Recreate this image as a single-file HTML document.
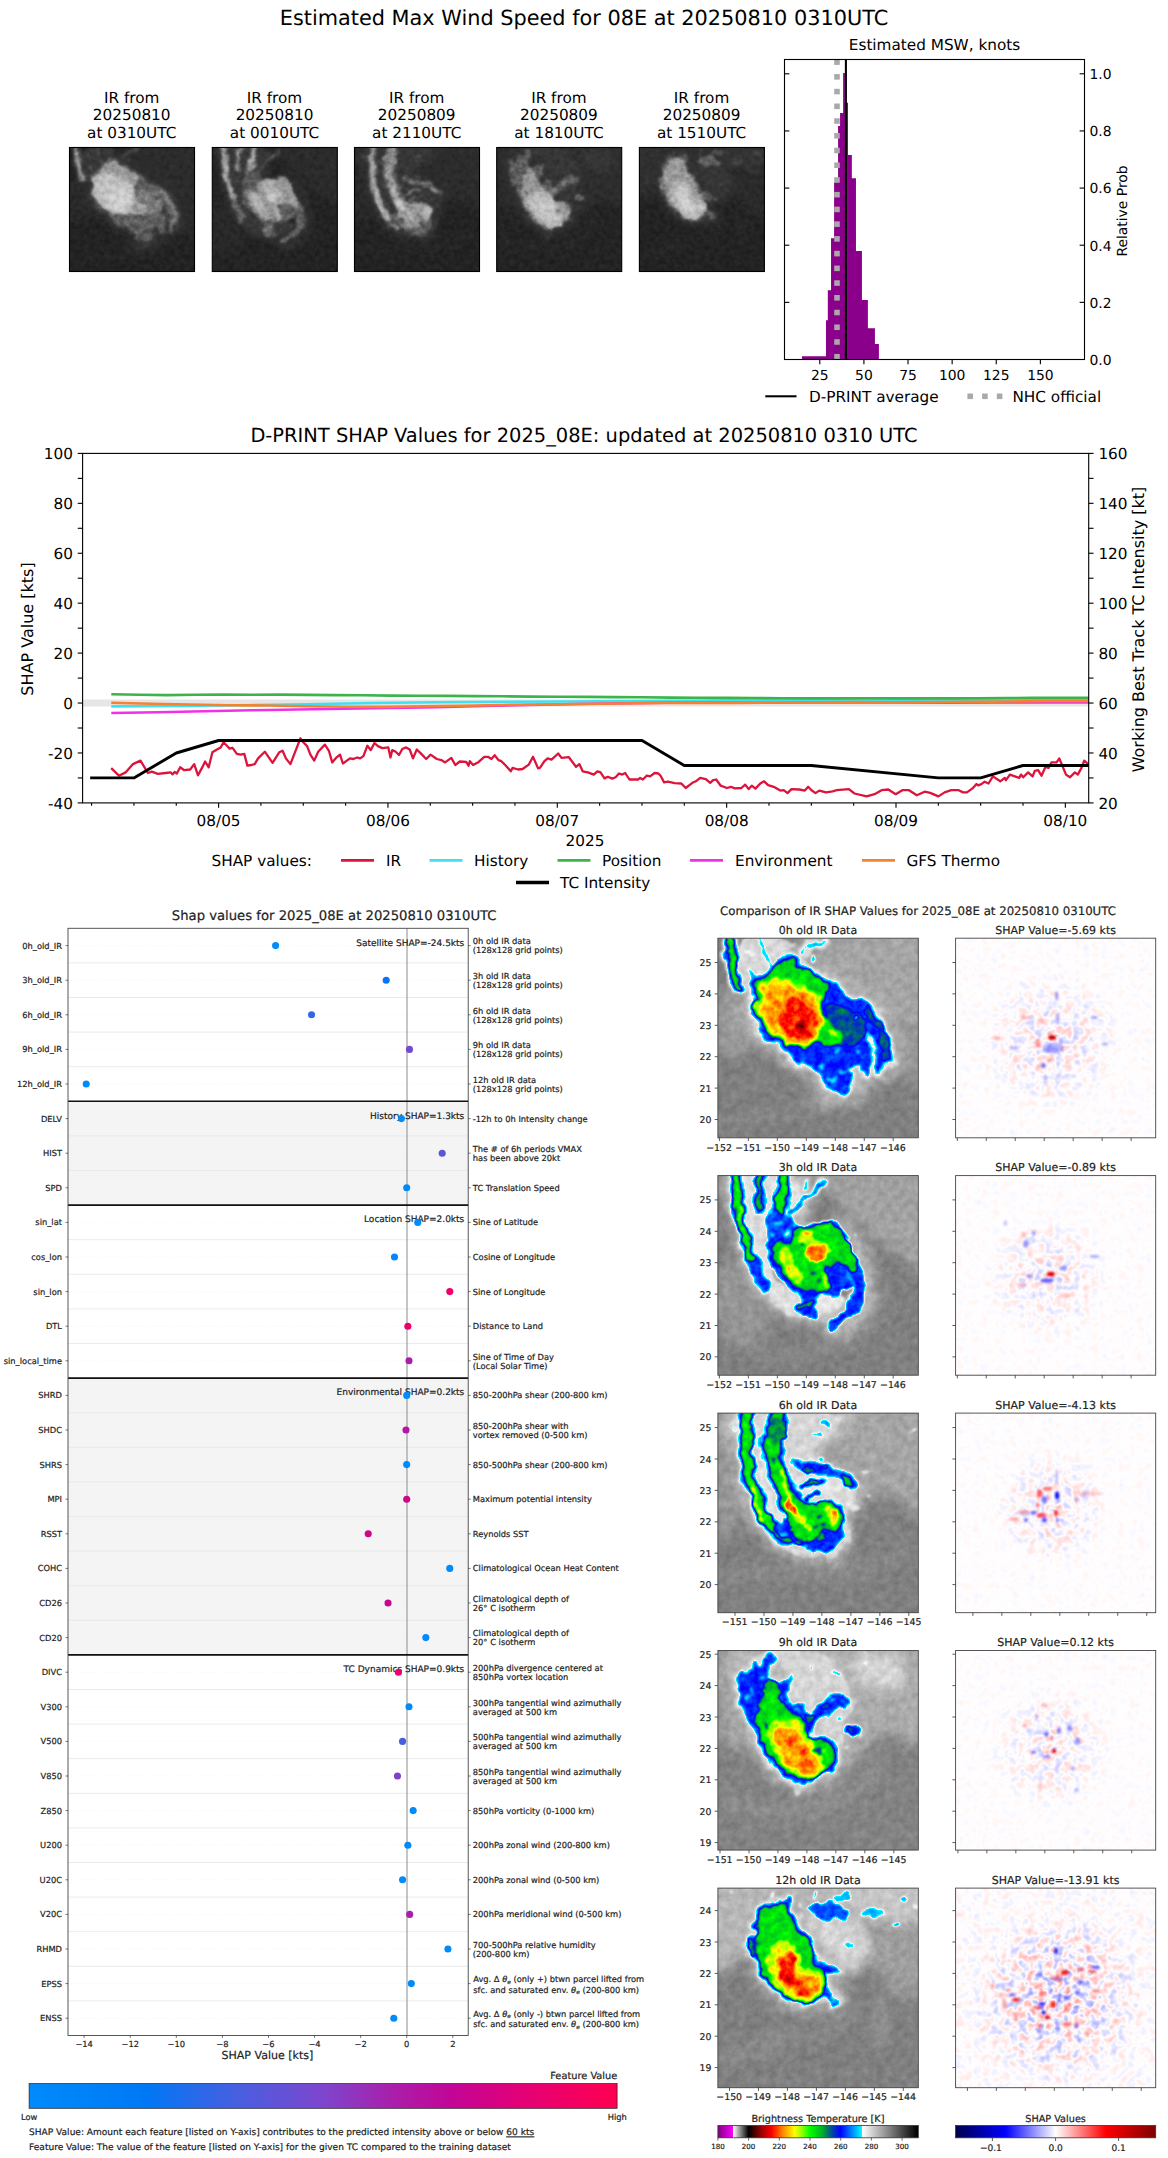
<!DOCTYPE html>
<html lang="en"><head><meta charset="utf-8"><title>D-PRINT 08E</title>
<style>
html,body{margin:0;padding:0;background:#fff}
svg{display:block;font-family:'DejaVu Sans','Liberation Sans',sans-serif}
text{white-space:pre;text-rendering:geometricPrecision}
.rs text{stroke:#222;stroke-width:0.2px}
</style></head>
<body>
<svg width="1168" height="2158" viewBox="0 0 1168 2158">
<rect x="0" y="0" width="1168" height="2158" fill="#fff"/>
<defs>
<filter id="btmap" x="0" y="0" width="1" height="1" color-interpolation-filters="sRGB">
<feTurbulence type="fractalNoise" baseFrequency="0.07" numOctaves="3" seed="21" result="d"/>
<feDisplacementMap in="SourceGraphic" in2="d" scale="11" xChannelSelector="R" yChannelSelector="G" result="sd"/>
<feGaussianBlur in="sd" stdDeviation="1.3" result="b"/>
<feTurbulence type="fractalNoise" baseFrequency="0.13" numOctaves="3" seed="4" result="n"/>
<feColorMatrix in="n" type="matrix" values="1 0 0 0 0 1 0 0 0 0 1 0 0 0 0 0 0 0 0 1" result="ng"/>
<feComposite in="b" in2="ng" operator="arithmetic" k1="0.16" k2="0.92" k3="0.022" k4="-0.011" result="h"/>
<feComponentTransfer in="h"><feFuncR type="table" tableValues="0 0.028 0.056 0.083 0.111 0.139 0.167 0.194 0.222 0.25 0.278 0.306 0.333 0.361 0.389 0.417 0.445 0.472 0.5 0.528 0.556 0.583 0.611 0.639 0.667 0.695 0.722 0.75 0.778 0.806 0.834 0.861 0.889 0.917 0.945 0.972 0 0 0 0 0 0 0 0 0 0 0 0 0 0 0 0 0 0 0 0 0 0 0 0 0 0 0 0 0 0 0 0 0 0 0 0.11 0.22 0.329 0.439 0.549 0.639 0.729 0.82 0.91 1 1 1 1 1 1 1 1 1 1 1 1 1 1 1 1 0.941 0.882 0.824 0.765 0.706 0.647 0.588 0.515 0.441 0.368 0.294 0.221 0.147 0.074 0"/><feFuncG type="table" tableValues="0 0.028 0.056 0.083 0.111 0.139 0.167 0.194 0.222 0.25 0.278 0.306 0.333 0.361 0.389 0.417 0.445 0.472 0.5 0.528 0.556 0.583 0.611 0.639 0.667 0.695 0.722 0.75 0.778 0.806 0.834 0.861 0.889 0.917 0.945 0.972 1 0.929 0.858 0.787 0.715 0.644 0.573 0.502 0.43 0.359 0.287 0.215 0.143 0.072 0 0.049 0.098 0.147 0.196 0.255 0.314 0.373 0.431 0.495 0.559 0.623 0.686 0.725 0.765 0.804 0.843 0.882 0.922 0.961 1 1 1 1 1 1 1 1 1 1 1 0.939 0.877 0.816 0.755 0.694 0.632 0.571 0.51 0.437 0.364 0.291 0.218 0.146 0.073 0 0 0 0 0 0 0 0 0 0 0 0 0 0 0 0"/><feFuncB type="table" tableValues="0 0.028 0.056 0.083 0.111 0.139 0.167 0.194 0.222 0.25 0.278 0.306 0.333 0.361 0.389 0.417 0.445 0.472 0.5 0.528 0.556 0.583 0.611 0.639 0.667 0.695 0.722 0.75 0.778 0.806 0.834 0.861 0.889 0.917 0.945 0.972 1 1 1 1 1 1 1 1 1 1 1 1 1 1 1 0.936 0.873 0.809 0.745 0.667 0.588 0.51 0.431 0.363 0.294 0.225 0.157 0.137 0.118 0.098 0.078 0.059 0.039 0.02 0 0 0 0 0 0 0 0 0 0 0 0 0 0 0 0 0 0 0 0 0 0 0 0 0 0 0 0 0 0 0 0 0 0 0 0 0 0 0 0 0"/></feComponentTransfer>
</filter>
<filter id="graymap" x="0" y="0" width="1" height="1" color-interpolation-filters="sRGB">
<feTurbulence type="fractalNoise" baseFrequency="0.11" numOctaves="3" seed="5" result="d"/>
<feDisplacementMap in="SourceGraphic" in2="d" scale="7" xChannelSelector="R" yChannelSelector="G" result="sd"/>
<feGaussianBlur in="sd" stdDeviation="1.0" result="b"/>
<feTurbulence type="fractalNoise" baseFrequency="0.2" numOctaves="3" seed="7" result="n"/>
<feColorMatrix in="n" type="matrix" values="1 0 0 0 0 1 0 0 0 0 1 0 0 0 0 0 0 0 0 1" result="ng"/>
<feComposite in="b" in2="ng" operator="arithmetic" k1="0.3" k2="0.85" k3="0.06" k4="-0.03" result="h"/>
<feComponentTransfer in="h"><feFuncR type="table" tableValues="0 0.085 0.165 0.23 0.33 0.46 0.59 0.69 0.77 0.83 0.87"/><feFuncG type="table" tableValues="0 0.085 0.165 0.23 0.33 0.46 0.59 0.69 0.77 0.83 0.87"/><feFuncB type="table" tableValues="0 0.085 0.165 0.23 0.33 0.46 0.59 0.69 0.77 0.83 0.87"/></feComponentTransfer>
</filter>
<filter id="soft" x="-0.1" y="-0.1" width="1.2" height="1.2" color-interpolation-filters="sRGB"><feGaussianBlur stdDeviation="28"/></filter>
<filter id="shp0" x="0" y="0" width="1" height="1" color-interpolation-filters="sRGB">
<feTurbulence type="fractalNoise" baseFrequency="0.11" numOctaves="2" seed="11" result="n"/>
<feColorMatrix in="n" type="matrix" values="1 0 0 0 0 1 0 0 0 0 1 0 0 0 0 0 0 0 0 1" result="ng"/>
<feComposite in="ng" in2="SourceGraphic" operator="arithmetic" k1="1.0" k2="0" k3="-0.5" k4="0.501" result="v"/>
<feComponentTransfer in="v"><feFuncR type="table" tableValues="0 0 1 1 0.5"/><feFuncG type="table" tableValues="0 0 1 0 0"/><feFuncB type="table" tableValues="0.3 1 1 0 0"/></feComponentTransfer>
</filter>
<filter id="shp1" x="0" y="0" width="1" height="1" color-interpolation-filters="sRGB">
<feTurbulence type="fractalNoise" baseFrequency="0.11" numOctaves="2" seed="23" result="n"/>
<feColorMatrix in="n" type="matrix" values="1 0 0 0 0 1 0 0 0 0 1 0 0 0 0 0 0 0 0 1" result="ng"/>
<feComposite in="ng" in2="SourceGraphic" operator="arithmetic" k1="1.0" k2="0" k3="-0.5" k4="0.501" result="v"/>
<feComponentTransfer in="v"><feFuncR type="table" tableValues="0 0 1 1 0.5"/><feFuncG type="table" tableValues="0 0 1 0 0"/><feFuncB type="table" tableValues="0.3 1 1 0 0"/></feComponentTransfer>
</filter>
<filter id="shp2" x="0" y="0" width="1" height="1" color-interpolation-filters="sRGB">
<feTurbulence type="fractalNoise" baseFrequency="0.11" numOctaves="2" seed="35" result="n"/>
<feColorMatrix in="n" type="matrix" values="1 0 0 0 0 1 0 0 0 0 1 0 0 0 0 0 0 0 0 1" result="ng"/>
<feComposite in="ng" in2="SourceGraphic" operator="arithmetic" k1="1.0" k2="0" k3="-0.5" k4="0.501" result="v"/>
<feComponentTransfer in="v"><feFuncR type="table" tableValues="0 0 1 1 0.5"/><feFuncG type="table" tableValues="0 0 1 0 0"/><feFuncB type="table" tableValues="0.3 1 1 0 0"/></feComponentTransfer>
</filter>
<filter id="shp3" x="0" y="0" width="1" height="1" color-interpolation-filters="sRGB">
<feTurbulence type="fractalNoise" baseFrequency="0.11" numOctaves="2" seed="47" result="n"/>
<feColorMatrix in="n" type="matrix" values="1 0 0 0 0 1 0 0 0 0 1 0 0 0 0 0 0 0 0 1" result="ng"/>
<feComposite in="ng" in2="SourceGraphic" operator="arithmetic" k1="1.0" k2="0" k3="-0.5" k4="0.501" result="v"/>
<feComponentTransfer in="v"><feFuncR type="table" tableValues="0 0 1 1 0.5"/><feFuncG type="table" tableValues="0 0 1 0 0"/><feFuncB type="table" tableValues="0.3 1 1 0 0"/></feComponentTransfer>
</filter>
<filter id="shp4" x="0" y="0" width="1" height="1" color-interpolation-filters="sRGB">
<feTurbulence type="fractalNoise" baseFrequency="0.11" numOctaves="2" seed="59" result="n"/>
<feColorMatrix in="n" type="matrix" values="1 0 0 0 0 1 0 0 0 0 1 0 0 0 0 0 0 0 0 1" result="ng"/>
<feComposite in="ng" in2="SourceGraphic" operator="arithmetic" k1="1.0" k2="0" k3="-0.5" k4="0.501" result="v"/>
<feComponentTransfer in="v"><feFuncR type="table" tableValues="0 0 1 1 0.5"/><feFuncG type="table" tableValues="0 0 1 0 0"/><feFuncB type="table" tableValues="0.3 1 1 0 0"/></feComponentTransfer>
</filter>
<filter id="spotblur" x="-1" y="-1" width="3" height="3"><feGaussianBlur stdDeviation="0.8"/></filter>
<radialGradient id="env0" gradientUnits="userSpaceOnUse" cx="1050" cy="1042" r="72"><stop offset="0" stop-color="rgb(63,63,63)"/><stop offset="0.5" stop-color="rgb(35,35,35)"/><stop offset="1" stop-color="rgb(8,8,8)"/></radialGradient>
<radialGradient id="env1" gradientUnits="userSpaceOnUse" cx="1048" cy="1277" r="64"><stop offset="0" stop-color="rgb(56,56,56)"/><stop offset="0.5" stop-color="rgb(31,31,31)"/><stop offset="1" stop-color="rgb(7,7,7)"/></radialGradient>
<radialGradient id="env2" gradientUnits="userSpaceOnUse" cx="1052" cy="1508" r="60"><stop offset="0" stop-color="rgb(66,66,66)"/><stop offset="0.5" stop-color="rgb(36,36,36)"/><stop offset="1" stop-color="rgb(7,7,7)"/></radialGradient>
<radialGradient id="env3" gradientUnits="userSpaceOnUse" cx="1052" cy="1748" r="64"><stop offset="0" stop-color="rgb(56,56,56)"/><stop offset="0.5" stop-color="rgb(31,31,31)"/><stop offset="1" stop-color="rgb(7,7,7)"/></radialGradient>
<radialGradient id="env4" gradientUnits="userSpaceOnUse" cx="1058" cy="1998" r="90"><stop offset="0" stop-color="rgb(117,117,117)"/><stop offset="0.5" stop-color="rgb(66,66,66)"/><stop offset="1" stop-color="rgb(16,16,16)"/></radialGradient>
<g id="storm0"><rect x="-80" y="-80" width="1330" height="1330" fill="#2a2a2a"/><g filter="url(#soft)"><path d="M560,60C730,13 920,-100 1100,60C1280,220 1140,393 1100,540C1060,687 1053,537 980,500C907,463 953,483 880,430C807,377 833,393 760,340C687,287 717,317 660,270C603,223 623,270 590,200C557,130 390,107 560,60Z" fill="#363636"/><path d="M90,380C127,300 147,327 200,360C253,393 237,393 250,480C263,567 273,560 240,620C207,680 200,667 150,660C100,653 110,693 90,600C70,507 53,460 90,380Z" fill="#333333"/><path d="M950,560C980,487 1037,473 1080,540C1123,607 1110,687 1080,760C1050,833 1033,827 990,760C947,693 920,633 950,560Z" fill="#323232"/><path d="M120,1000C213,977 207,963 400,930C593,897 533,943 700,900C867,857 833,833 900,800" fill="none" stroke="#2d2d2d" stroke-width="60" stroke-linecap="round" stroke-linejoin="round"/><path d="M560,880C607,880 620,900 700,880C780,860 767,840 800,820" fill="none" stroke="#3a3a3a" stroke-width="50" stroke-linecap="round" stroke-linejoin="round"/><path d="M400,180C435,172 438,178 465,190C492,202 462,200 480,215C498,230 490,218 520,235C550,252 540,250 570,265C600,280 583,265 610,280C637,295 623,287 650,310C677,333 663,328 690,350C717,372 697,358 730,375C763,392 753,378 790,400C827,422 810,410 840,440C870,470 858,453 880,490C902,527 890,507 905,550C920,593 917,573 925,620C933,667 940,663 930,690C920,717 915,685 895,700C875,715 892,728 870,735C848,742 850,717 830,720C810,723 823,745 810,745C797,745 807,735 790,720C773,705 783,693 760,700C737,707 725,717 720,740C715,763 743,747 745,770C747,793 743,788 725,810C707,832 718,833 690,835C662,837 667,827 640,815C613,803 623,818 610,800C597,782 617,783 600,760C583,737 587,750 560,730C533,710 550,713 520,700C490,687 497,707 470,690C443,673 463,672 440,650C417,628 420,642 400,625C380,608 400,615 380,600C360,585 367,600 340,580C313,560 325,573 300,540C275,507 280,513 265,480C250,447 253,470 255,440C257,410 270,423 270,390C270,357 262,373 255,340C248,307 238,312 250,290C262,268 267,287 290,275C313,263 297,275 320,255C343,235 333,240 360,215C387,190 365,188 400,180Z" fill="#3c3c3c" stroke="#3c3c3c" stroke-width="110" stroke-linejoin="round"/></g><path d="M400,180C435,172 438,178 465,190C492,202 462,200 480,215C498,230 490,218 520,235C550,252 540,250 570,265C600,280 583,265 610,280C637,295 623,287 650,310C677,333 663,328 690,350C717,372 697,358 730,375C763,392 753,378 790,400C827,422 810,410 840,440C870,470 858,453 880,490C902,527 890,507 905,550C920,593 917,573 925,620C933,667 940,663 930,690C920,717 915,685 895,700C875,715 892,728 870,735C848,742 850,717 830,720C810,723 823,745 810,745C797,745 807,735 790,720C773,705 783,693 760,700C737,707 725,717 720,740C715,763 743,747 745,770C747,793 743,788 725,810C707,832 718,833 690,835C662,837 667,827 640,815C613,803 623,818 610,800C597,782 617,783 600,760C583,737 587,750 560,730C533,710 550,713 520,700C490,687 497,707 470,690C443,673 463,672 440,650C417,628 420,642 400,625C380,608 400,615 380,600C360,585 367,600 340,580C313,560 325,573 300,540C275,507 280,513 265,480C250,447 253,470 255,440C257,410 270,423 270,390C270,357 262,373 255,340C248,307 238,312 250,290C262,268 267,287 290,275C313,263 297,275 320,255C343,235 333,240 360,215C387,190 365,188 400,180Z" fill="#464646" stroke="#464646" stroke-width="50" stroke-linejoin="round"/><path d="M400,180C435,172 438,178 465,190C492,202 462,200 480,215C498,230 490,218 520,235C550,252 540,250 570,265C600,280 583,265 610,280C637,295 623,287 650,310C677,333 663,328 690,350C717,372 697,358 730,375C763,392 753,378 790,400C827,422 810,410 840,440C870,470 858,453 880,490C902,527 890,507 905,550C920,593 917,573 925,620C933,667 940,663 930,690C920,717 915,685 895,700C875,715 892,728 870,735C848,742 850,717 830,720C810,723 823,745 810,745C797,745 807,735 790,720C773,705 783,693 760,700C737,707 725,717 720,740C715,763 743,747 745,770C747,793 743,788 725,810C707,832 718,833 690,835C662,837 667,827 640,815C613,803 623,818 610,800C597,782 617,783 600,760C583,737 587,750 560,730C533,710 550,713 520,700C490,687 497,707 470,690C443,673 463,672 440,650C417,628 420,642 400,625C380,608 400,615 380,600C360,585 367,600 340,580C313,560 325,573 300,540C275,507 280,513 265,480C250,447 253,470 255,440C257,410 270,423 270,390C270,357 262,373 255,340C248,307 238,312 250,290C262,268 267,287 290,275C313,263 297,275 320,255C343,235 333,240 360,215C387,190 365,188 400,180Z" fill="#4e4e4e" stroke="#4e4e4e" stroke-width="26" stroke-linejoin="round"/><path d="M200,110C273,43 353,80 420,100C487,120 440,117 400,170C360,223 353,210 300,260C247,310 273,307 240,320C207,333 213,370 200,300C187,230 127,177 200,110Z" fill="#474747"/><path d="M140,40C143,77 142,80 150,150C158,220 154,188 165,250C176,312 176,307 182,335" fill="none" stroke="#434343" stroke-width="80" stroke-linecap="round" stroke-linejoin="round"/><path d="M140,40C143,77 142,80 150,150C158,220 154,188 165,250C176,312 176,307 182,335" fill="none" stroke="#4f4f4f" stroke-width="62" stroke-linecap="round" stroke-linejoin="round"/><path d="M140,40C143,77 142,80 150,150C158,220 154,188 165,250C176,312 176,307 182,335" fill="none" stroke="#6f6f6f" stroke-width="46" stroke-linecap="round" stroke-linejoin="round"/><path d="M140,40C143,77 142,80 150,150C158,220 154,188 165,250C176,312 176,307 182,335" fill="none" stroke="#9e9e9e" stroke-width="24" stroke-linecap="round" stroke-linejoin="round"/><path d="M300,95C307,117 305,115 320,160C335,205 337,207 345,230" fill="none" stroke="#484848" stroke-width="40" stroke-linecap="round" stroke-linejoin="round"/><path d="M300,95C307,117 305,115 320,160C335,205 337,207 345,230" fill="none" stroke="#5a5a5a" stroke-width="16" stroke-linecap="round" stroke-linejoin="round"/><path d="M225,140C233,148 242,157 250,165" fill="none" stroke="#585858" stroke-width="18" stroke-linecap="round" stroke-linejoin="round"/><path d="M250,250C258,267 267,283 275,300" fill="none" stroke="#616161" stroke-width="22" stroke-linecap="round" stroke-linejoin="round"/><path d="M500,160C515,148 508,145 545,125C582,105 588,108 610,100" fill="none" stroke="#484848" stroke-width="50" stroke-linecap="round" stroke-linejoin="round"/><path d="M500,160C515,148 508,145 545,125C582,105 588,108 610,100" fill="none" stroke="#5d5d5d" stroke-width="14" stroke-linecap="round" stroke-linejoin="round"/><ellipse cx="545" cy="185" rx="12" ry="18" fill="#5d5d5d" transform="rotate(30 545 185)"/><path d="M400,180C435,172 438,178 465,190C492,202 462,200 480,215C498,230 490,218 520,235C550,252 540,250 570,265C600,280 583,265 610,280C637,295 623,287 650,310C677,333 663,328 690,350C717,372 697,358 730,375C763,392 753,378 790,400C827,422 810,410 840,440C870,470 858,453 880,490C902,527 890,507 905,550C920,593 917,573 925,620C933,667 940,663 930,690C920,717 915,685 895,700C875,715 892,728 870,735C848,742 850,717 830,720C810,723 823,745 810,745C797,745 807,735 790,720C773,705 783,693 760,700C737,707 725,717 720,740C715,763 743,747 745,770C747,793 743,788 725,810C707,832 718,833 690,835C662,837 667,827 640,815C613,803 623,818 610,800C597,782 617,783 600,760C583,737 587,750 560,730C533,710 550,713 520,700C490,687 497,707 470,690C443,673 463,672 440,650C417,628 420,642 400,625C380,608 400,615 380,600C360,585 367,600 340,580C313,560 325,573 300,540C275,507 280,513 265,480C250,447 253,470 255,440C257,410 270,423 270,390C270,357 262,373 255,340C248,307 238,312 250,290C262,268 267,287 290,275C313,263 297,275 320,255C343,235 333,240 360,215C387,190 365,188 400,180Z" fill="#6f6f6f"/><path d="M620,440C633,390 647,420 700,430C753,440 743,437 780,470C817,503 807,490 810,530C813,570 820,565 790,590C760,615 763,608 720,605C677,602 693,635 660,580C627,525 607,490 620,440Z" fill="#828282"/><path d="M805,445C824,465 832,458 862,505C892,552 881,532 895,585C909,638 900,638 903,665" fill="none" stroke="#828282" stroke-width="36" stroke-linecap="round" stroke-linejoin="round"/><path d="M822,560C831,587 846,588 850,640C854,692 840,690 835,715" fill="none" stroke="#4f4f4f" stroke-width="30" stroke-linecap="round" stroke-linejoin="round"/><ellipse cx="762" cy="478" rx="14" ry="8" fill="#4c4c4c"/><ellipse cx="670" cy="632" rx="18" ry="10" fill="#565656"/><ellipse cx="600" cy="705" rx="14" ry="10" fill="#565656"/><ellipse cx="690" cy="745" rx="20" ry="10" fill="#565656"/><ellipse cx="775" cy="645" rx="12" ry="16" fill="#565656"/><ellipse cx="640" cy="780" rx="22" ry="10" fill="#565656"/><ellipse cx="560" cy="570" rx="14" ry="8" fill="#565656"/><ellipse cx="585" cy="575" rx="10" ry="8" fill="#565656"/><path d="M405,200C430,190 423,187 445,195C467,203 445,207 470,225C495,243 490,232 520,250C550,268 533,267 560,280C587,293 578,273 600,290C622,307 625,303 625,330C625,357 617,340 600,370C583,400 575,387 575,420C575,453 575,437 600,470C625,503 620,490 650,520C680,550 687,533 690,560C693,587 687,583 660,600C633,617 643,612 610,610C577,608 590,592 560,595C530,598 553,615 520,620C487,625 497,618 460,610C423,602 440,607 410,595C380,583 397,593 370,575C343,557 355,567 330,540C305,513 315,528 295,495C275,462 275,475 270,440C265,405 282,423 280,390C278,357 268,370 265,340C262,310 255,317 270,300C285,283 287,303 310,290C333,277 320,282 340,260C360,238 348,245 370,225C392,205 380,210 405,200Z" fill="#9b9b9b"/><path d="M285,320C306,303 302,305 340,295C378,285 360,287 400,290C440,293 422,290 460,305C498,320 482,313 515,335C548,357 537,342 560,370C583,398 574,383 585,420C596,457 594,438 592,480C590,522 597,505 580,545C563,585 577,578 540,600C503,622 512,613 470,612C428,611 448,612 415,598C382,584 400,594 370,570C340,546 352,558 325,525C298,492 305,507 288,470C271,433 274,447 275,415C276,383 289,398 290,375C291,352 280,363 278,345C276,327 264,337 285,320Z" fill="#b7b7b7"/><ellipse cx="650" cy="545" rx="30" ry="12" fill="#b2b2b2" transform="rotate(35 650 545)"/><path d="M305,340C322,313 322,322 360,315C398,308 383,312 420,320C457,328 435,325 470,340C505,355 493,343 525,365C557,387 547,370 565,405C583,440 577,427 578,470C579,513 584,496 568,535C552,574 563,567 530,588C497,609 505,601 470,598C435,595 455,595 425,580C395,565 409,577 380,552C351,527 365,539 338,505C311,471 309,487 300,450C291,413 308,432 310,395C312,358 288,367 305,340Z" fill="#c7c7c7"/><ellipse cx="476" cy="485" rx="86" ry="104" fill="#dadada" transform="rotate(-20 476 485)"/><ellipse cx="485" cy="515" rx="26" ry="34" fill="#e6e6e6"/></g>
<g id="storm1"><rect x="-80" y="-80" width="1330" height="1330" fill="#2a2a2a"/><g filter="url(#soft)"><path d="M600,60C740,-3 933,-93 1100,60C1267,213 1147,380 1100,520C1053,660 1040,513 960,480C880,447 927,470 860,420C793,370 820,387 760,330C700,273 733,340 680,250C627,160 460,123 600,60Z" fill="#353535"/><path d="M90,560C137,473 143,493 220,540C297,587 293,580 320,700C347,820 360,827 300,900C240,973 213,953 140,920C67,887 97,920 80,800C63,680 43,647 90,560Z" fill="#313131"/><path d="M300,1000C400,980 433,987 600,940C767,893 700,940 800,860C900,780 867,753 900,700" fill="none" stroke="#2e2e2e" stroke-width="60" stroke-linecap="round" stroke-linejoin="round"/><path d="M150,80C263,23 357,7 480,80C603,153 540,187 520,300C500,413 473,333 420,420C367,507 360,480 360,560C360,640 353,613 420,660C487,707 467,687 560,700C653,713 673,667 700,700C727,733 707,763 640,800C573,837 587,823 500,810C413,797 447,803 380,760C313,717 350,747 300,680C250,613 273,653 230,560C187,467 200,503 170,400C140,297 147,357 140,250C133,143 37,137 150,80Z" fill="#434343"/><path d="M640,300C667,300 697,307 760,380C823,453 800,420 830,520C860,620 860,587 850,680C840,773 857,733 800,800C743,867 747,860 680,880C613,900 613,900 600,860C587,820 587,833 640,760C693,687 727,733 760,640C793,547 767,567 740,480C713,393 713,440 680,380C647,320 613,300 640,300Z" fill="#3f3f3f"/></g><path d="M200,120C280,30 350,50 440,110C530,170 483,197 470,300C457,403 440,340 400,420C360,500 343,467 350,540C357,613 350,590 420,640C490,690 487,670 560,690C633,710 627,670 640,700C653,730 653,750 600,780C547,810 553,803 480,790C407,777 437,783 380,740C323,697 353,727 310,660C267,593 287,633 250,540C213,447 217,520 200,380C183,240 120,210 200,120Z" fill="#494949"/><path d="M180,60C183,123 175,137 188,250C201,363 193,310 218,400C243,490 230,438 262,520C294,602 297,603 315,645" fill="none" stroke="#4f4f4f" stroke-width="76" stroke-linecap="round" stroke-linejoin="round"/><path d="M180,60C183,123 175,137 188,250C201,363 193,310 218,400C243,490 230,438 262,520C294,602 297,603 315,645" fill="none" stroke="#6f6f6f" stroke-width="52" stroke-linecap="round" stroke-linejoin="round"/><path d="M180,60C183,123 176,140 188,250C200,360 194,307 215,390C236,473 240,463 252,500" fill="none" stroke="#a0a0a0" stroke-width="30" stroke-linecap="round" stroke-linejoin="round"/><path d="M195,250C198,277 202,303 205,330" fill="none" stroke="#b2b2b2" stroke-width="8" stroke-linecap="round" stroke-linejoin="round"/><path d="M305,100C297,130 286,135 282,190C278,245 289,240 292,265" fill="none" stroke="#515151" stroke-width="66" stroke-linecap="round" stroke-linejoin="round"/><path d="M305,100C297,130 286,135 282,190C278,245 289,240 292,265" fill="none" stroke="#6d6d6d" stroke-width="44" stroke-linecap="round" stroke-linejoin="round"/><path d="M305,100C297,130 286,135 282,190C278,245 289,240 292,265" fill="none" stroke="#929292" stroke-width="18" stroke-linecap="round" stroke-linejoin="round"/><path d="M412,100C407,133 411,137 398,200C385,263 386,232 374,290C362,348 366,347 362,375" fill="none" stroke="#515151" stroke-width="84" stroke-linecap="round" stroke-linejoin="round"/><path d="M412,100C407,133 411,137 398,200C385,263 386,232 374,290C362,348 366,347 362,375" fill="none" stroke="#6f6f6f" stroke-width="62" stroke-linecap="round" stroke-linejoin="round"/><path d="M412,100C407,133 411,137 398,200C385,263 386,232 374,290C362,348 366,347 362,375" fill="none" stroke="#a0a0a0" stroke-width="36" stroke-linecap="round" stroke-linejoin="round"/><path d="M612,125C588,147 587,148 540,190C493,232 504,221 470,250C436,279 449,269 438,278" fill="none" stroke="#4c4c4c" stroke-width="38" stroke-linecap="round" stroke-linejoin="round"/><path d="M612,125C588,147 587,148 540,190C493,232 504,221 470,250C436,279 449,269 438,278" fill="none" stroke="#686868" stroke-width="16" stroke-linecap="round" stroke-linejoin="round"/><path d="M525,130C519,142 514,153 508,165" fill="none" stroke="#616161" stroke-width="14" stroke-linecap="round" stroke-linejoin="round"/><path d="M335,300C362,257 373,280 420,290C467,300 458,287 475,330C492,373 495,380 470,420C445,460 443,450 400,450C357,450 362,470 340,420C318,370 308,343 335,300Z" fill="#6b6b6b"/><ellipse cx="380" cy="330" rx="16" ry="10" fill="#565656"/><ellipse cx="430" cy="380" rx="12" ry="16" fill="#565656"/><ellipse cx="350" cy="390" rx="10" ry="14" fill="#565656"/><ellipse cx="455" cy="340" rx="10" ry="8" fill="#565656"/><path d="M470,350C497,335 483,343 520,335C557,327 540,327 580,325C620,323 611,331 640,330C669,329 651,312 668,322C685,332 673,334 690,360C707,386 717,383 720,400C723,417 693,387 700,410C707,433 715,430 740,470C765,510 757,487 775,530C793,573 787,553 795,600C803,647 803,623 800,670C797,717 805,700 785,740C765,780 772,765 740,790C708,815 720,795 690,815C660,835 672,842 650,850C628,858 628,857 625,840C622,823 615,827 640,800C665,773 667,793 700,760C733,727 725,740 740,700C755,660 750,677 745,640C740,603 740,590 725,590C710,590 722,610 700,640C678,670 693,660 660,680C627,700 633,687 600,700C567,713 568,700 560,720C552,740 575,735 575,760C575,785 578,782 560,795C542,808 547,815 520,800C493,785 487,780 480,750C473,720 500,730 500,710C500,690 500,710 480,690C460,670 467,677 440,650C413,623 427,637 400,610C373,583 380,600 360,570C340,540 350,557 340,520C330,483 328,497 330,460C332,423 322,430 345,410C368,390 368,410 400,400C432,390 417,397 440,380C463,363 443,365 470,350Z" fill="#6f6f6f"/><path d="M560,690C580,669 592,680 640,680C688,680 688,672 705,690C722,708 718,714 690,735C662,756 657,750 620,752C583,754 600,763 580,742C560,721 540,711 560,690Z" fill="#4c4c4c"/><path d="M470,360C500,342 497,352 540,345C583,338 560,338 600,340C640,342 627,330 660,350C693,370 673,357 700,400C727,443 720,433 740,480C760,527 760,510 760,540C760,570 763,568 740,570C717,572 723,557 690,545C657,533 670,533 640,535C610,537 607,528 600,550C593,572 607,570 620,600C633,630 647,618 640,640C633,662 633,662 600,665C567,668 573,652 540,650C507,648 530,670 500,660C470,650 480,647 450,620C420,593 433,610 410,580C387,550 400,567 380,530C360,493 353,503 350,470C347,437 347,440 370,430C393,420 393,450 420,440C447,430 433,427 450,400C467,373 440,378 470,360Z" fill="#9b9b9b"/><path d="M490,380C510,362 517,358 540,365C563,372 540,378 560,400C580,422 573,407 600,430C627,453 640,447 640,470C640,493 633,483 600,500C567,517 573,520 540,520C507,520 507,523 500,500C493,477 527,477 520,450C513,423 490,443 480,420C470,397 470,398 490,380Z" fill="#b5b5b5"/><path d="M390,480C400,460 403,450 430,470C457,490 447,497 470,540C493,583 500,573 500,600C500,627 493,627 470,620C447,613 453,610 430,580C407,550 413,563 400,530C387,497 380,500 390,480Z" fill="#b5b5b5"/><path d="M590,570C603,560 608,563 625,580C642,597 645,600 640,620C635,640 628,643 610,640C592,637 592,633 585,610C578,587 577,580 590,570Z" fill="#b2b2b2"/><path d="M520,470C535,450 530,448 560,445C590,442 597,443 610,460C623,477 620,477 600,495C580,513 578,512 550,515C522,518 525,520 515,505C505,490 505,490 520,470Z" fill="#cacaca"/><ellipse cx="435" cy="550" rx="10" ry="22" fill="#c5c5c5" transform="rotate(-25 435 550)"/><ellipse cx="525" cy="380" rx="16" ry="7" fill="#c3c3c3"/><ellipse cx="500" cy="440" rx="12" ry="9" fill="#7d7d7d"/><ellipse cx="548" cy="582" rx="14" ry="10" fill="#7d7d7d"/><ellipse cx="575" cy="625" rx="8" ry="12" fill="#7d7d7d"/><path d="M610,555C633,535 640,535 680,540C720,545 710,542 730,570C750,598 750,598 740,625C730,652 732,645 700,650C668,655 674,657 645,640C616,623 624,628 612,600C600,572 587,575 610,555Z" fill="#6f6f6f"/><path d="M722,580C730,600 741,603 745,640C749,677 738,673 735,690" fill="none" stroke="#5d5d5d" stroke-width="14" stroke-linecap="round" stroke-linejoin="round"/><path d="M490,745C510,735 530,725 550,715" fill="none" stroke="#6f6f6f" stroke-width="40" stroke-linecap="round" stroke-linejoin="round"/><path d="M490,745C510,735 530,725 550,715" fill="none" stroke="#979797" stroke-width="14" stroke-linecap="round" stroke-linejoin="round"/><ellipse cx="755" cy="375" rx="8" ry="5" fill="#585858"/></g>
<g id="storm2"><rect x="-80" y="-80" width="1330" height="1330" fill="#2a2a2a"/><g filter="url(#soft)"><path d="M500,60C687,20 900,-107 1100,60C1300,227 1147,407 1100,560C1053,713 1047,540 960,520C873,500 913,540 840,500C767,460 813,467 740,400C667,333 687,373 620,300C553,227 580,260 540,180C500,100 313,100 500,60Z" fill="#363636"/><path d="M80,140C113,-33 140,33 180,120C220,207 200,233 200,400C200,567 220,540 180,620C140,700 113,800 80,640C47,480 47,313 80,140Z" fill="#323232"/><path d="M100,900C200,887 200,867 400,860C600,853 500,913 700,880C900,847 900,800 1000,760" fill="none" stroke="#2e2e2e" stroke-width="70" stroke-linecap="round" stroke-linejoin="round"/><path d="M150,80C327,7 523,40 700,80C877,120 713,127 680,200C647,273 573,227 600,300C627,373 693,353 760,420C827,487 807,427 800,500C793,573 773,540 740,640C707,740 760,740 700,800C640,860 653,827 560,820C467,813 507,820 420,780C333,740 370,780 300,700C230,620 253,673 210,540C167,407 190,453 170,300C150,147 -27,153 150,80Z" fill="#3f3f3f"/></g><path d="M200,100C347,33 493,67 640,100C787,133 667,133 640,200C613,267 540,233 560,300C580,367 633,340 700,400C767,460 753,413 760,480C767,547 740,507 720,600C700,693 753,693 700,760C647,827 653,800 560,800C467,800 503,800 420,760C337,720 373,760 310,680C247,600 267,647 230,520C193,393 210,440 200,300C190,160 53,167 200,100Z" fill="#464646"/><ellipse cx="800" cy="385" rx="20" ry="12" fill="#4f4f4f"/><ellipse cx="740" cy="560" rx="30" ry="14" fill="#4c4c4c" transform="rotate(20 740 560)"/><path d="M232,60C230,123 222,137 225,250C228,363 221,310 240,400C259,490 248,440 282,520C316,600 294,578 342,640C390,702 397,683 425,705" fill="none" stroke="#4f4f4f" stroke-width="90" stroke-linecap="round" stroke-linejoin="round"/><path d="M232,60C230,123 222,137 225,250C228,363 221,310 240,400C259,490 248,440 282,520C316,600 294,578 342,640C390,702 397,683 425,705" fill="none" stroke="#6f6f6f" stroke-width="66" stroke-linecap="round" stroke-linejoin="round"/><path d="M232,60C230,123 222,137 225,250C228,363 221,310 240,400C259,490 248,440 282,520C316,600 294,578 342,640C390,702 397,683 425,705" fill="none" stroke="#9e9e9e" stroke-width="42" stroke-linecap="round" stroke-linejoin="round"/><path d="M246,450C255,480 252,488 272,540C292,592 294,583 305,605" fill="none" stroke="#b9b9b9" stroke-width="20" stroke-linecap="round" stroke-linejoin="round"/><path d="M296,200C299,267 288,293 304,400C320,507 315,450 344,520C373,590 376,580 392,610" fill="none" stroke="#4c4c4c" stroke-width="20" stroke-linecap="round" stroke-linejoin="round"/><path d="M378,120C369,163 352,163 352,250C352,337 353,297 378,380C403,463 394,433 426,500C458,567 442,533 474,580C506,627 506,620 522,640" fill="none" stroke="#515151" stroke-width="116" stroke-linecap="round" stroke-linejoin="round"/><path d="M378,120C369,163 352,163 352,250C352,337 353,297 378,380C403,463 394,433 426,500C458,567 442,533 474,580C506,627 506,620 522,640" fill="none" stroke="#6f6f6f" stroke-width="92" stroke-linecap="round" stroke-linejoin="round"/><path d="M378,120C369,163 352,163 352,250C352,337 353,297 378,380C403,463 394,433 426,500C458,567 442,533 474,580C506,627 506,620 522,640" fill="none" stroke="#9b9b9b" stroke-width="62" stroke-linecap="round" stroke-linejoin="round"/><path d="M330,150C343,113 350,113 380,120C410,127 413,133 420,170C427,207 427,210 400,230C373,250 363,257 340,230C317,203 317,187 330,150Z" fill="#8b8b8b"/><ellipse cx="300" cy="225" rx="16" ry="22" fill="#5d5d5d"/><ellipse cx="160" cy="180" rx="10" ry="14" fill="#585858"/><ellipse cx="600" cy="160" rx="28" ry="12" fill="#616161"/><ellipse cx="570" cy="200" rx="20" ry="8" fill="#5d5d5d"/><ellipse cx="585" cy="320" rx="18" ry="12" fill="#5d5d5d"/><ellipse cx="822" cy="495" rx="7" ry="5" fill="#5d5d5d"/><ellipse cx="1045" cy="185" rx="10" ry="6" fill="#585858"/><ellipse cx="360" cy="330" rx="8" ry="20" fill="#7b7b7b"/><path d="M480,345C507,353 507,356 560,368C613,380 590,363 640,380C690,397 674,397 710,420C746,443 735,439 748,448" fill="none" stroke="#4f4f4f" stroke-width="64" stroke-linecap="round" stroke-linejoin="round"/><path d="M480,345C507,353 507,356 560,368C613,380 590,363 640,380C690,397 674,397 710,420C746,443 735,439 748,448" fill="none" stroke="#6f6f6f" stroke-width="42" stroke-linecap="round" stroke-linejoin="round"/><ellipse cx="715" cy="432" rx="30" ry="13" fill="#979797" transform="rotate(25 715 432)"/><ellipse cx="612" cy="366" rx="16" ry="9" fill="#929292"/><ellipse cx="530" cy="380" rx="28" ry="14" fill="#8b8b8b" transform="rotate(10 530 380)"/><path d="M420,480C430,437 443,457 470,470C497,483 470,500 500,520C530,540 520,530 560,530C600,530 583,517 620,520C657,523 643,517 670,540C697,563 692,553 700,590C708,627 702,607 695,650C688,693 698,680 680,720C662,760 677,750 640,770C603,790 617,783 570,780C523,777 543,780 500,760C457,740 477,740 440,720C403,700 417,720 390,700C363,680 357,687 360,660C363,633 373,640 400,620C427,600 433,647 440,600C447,553 410,523 420,480Z" fill="#6f6f6f"/><path d="M470,430C490,393 503,403 560,400C617,397 593,397 640,420C687,443 683,437 700,470C717,503 717,507 690,520C663,533 663,510 620,510C577,510 600,520 560,520C520,520 530,540 500,510C470,480 450,467 470,430Z" fill="#4a4a4a"/><path d="M492,462C508,455 503,452 540,440C577,428 581,431 602,426" fill="none" stroke="#6b6b6b" stroke-width="22" stroke-linecap="round" stroke-linejoin="round"/><path d="M492,462C508,455 503,452 540,440C577,428 581,431 602,426" fill="none" stroke="#949494" stroke-width="9" stroke-linecap="round" stroke-linejoin="round"/><path d="M512,512C531,503 549,493 568,484" fill="none" stroke="#6b6b6b" stroke-width="20" stroke-linecap="round" stroke-linejoin="round"/><path d="M512,512C531,503 549,493 568,484" fill="none" stroke="#949494" stroke-width="8" stroke-linecap="round" stroke-linejoin="round"/><path d="M440,500C460,480 447,507 480,520C513,533 493,537 540,540C587,543 577,523 620,530C663,537 647,530 670,560C693,590 690,587 690,620C690,653 700,643 670,660C640,677 637,657 600,670C563,683 587,683 560,700C533,717 550,723 520,720C490,717 497,717 470,690C443,663 457,677 440,640C423,603 420,627 420,580C420,533 420,520 440,500Z" fill="#9b9b9b"/><ellipse cx="645" cy="600" rx="30" ry="48" fill="#b5b5b5" transform="rotate(-10 645 600)"/><ellipse cx="655" cy="580" rx="13" ry="18" fill="#cacaca"/><path d="M398,390C412,437 409,456 440,530C471,604 459,572 492,612C525,652 524,637 540,650" fill="none" stroke="#b9b9b9" stroke-width="24" stroke-linecap="round" stroke-linejoin="round"/><ellipse cx="446" cy="556" rx="16" ry="42" fill="#d1d1d1" transform="rotate(-30 446 556)"/><ellipse cx="580" cy="600" rx="12" ry="12" fill="#7d7d7d"/><ellipse cx="602" cy="642" rx="10" ry="10" fill="#7d7d7d"/><ellipse cx="560" cy="655" rx="9" ry="9" fill="#7d7d7d"/><ellipse cx="470" cy="725" rx="26" ry="12" fill="#949494" transform="rotate(20 470 725)"/><ellipse cx="585" cy="705" rx="22" ry="12" fill="#949494"/><ellipse cx="410" cy="690" rx="16" ry="8" fill="#585858"/><ellipse cx="450" cy="660" rx="10" ry="8" fill="#585858"/><ellipse cx="520" cy="760" rx="14" ry="8" fill="#585858"/></g>
<g id="storm3"><rect x="-80" y="-80" width="1330" height="1330" fill="#2b2b2b"/><g filter="url(#soft)"><path d="M420,60C560,-60 873,-87 1100,60C1327,207 1167,347 1100,500C1033,653 1013,480 900,520C787,560 827,607 760,620C693,633 727,627 700,560C673,493 773,587 680,420C587,253 280,180 420,60Z" fill="#383838"/><path d="M80,110C140,10 207,37 260,100C313,163 240,160 240,300C240,440 300,433 260,520C220,607 180,600 120,560C60,520 93,550 80,400C67,250 20,210 80,110Z" fill="#353535"/><path d="M120,820C213,840 207,880 400,880C593,880 547,900 700,820C853,740 807,700 860,640" fill="none" stroke="#303030" stroke-width="60" stroke-linecap="round" stroke-linejoin="round"/><path d="M760,130C807,97 820,103 900,120C980,137 980,127 1000,180C1020,233 1020,250 960,280C900,310 887,290 820,270C753,250 780,267 760,220C740,173 713,163 760,130Z" fill="#464646"/><path d="M160,100C247,30 240,77 420,90C600,103 587,60 700,140C813,220 747,203 760,330C773,457 760,403 740,520C720,637 760,593 700,680C640,767 653,753 560,780C467,807 507,800 420,760C333,720 367,747 300,660C233,573 267,620 220,500C173,380 180,433 160,300C140,167 73,170 160,100Z" fill="#3c3c3c"/></g><path d="M330,100C370,57 443,77 560,110C677,143 620,127 680,200C740,273 733,237 740,330C747,423 720,377 700,480C680,583 727,553 680,640C633,727 640,707 560,740C480,773 487,853 440,740C393,627 420,567 420,400C420,233 470,340 440,240C410,140 290,143 330,100Z" fill="#464646"/><path d="M345,105C357,108 360,115 355,150C350,185 328,177 330,210C332,243 330,240 360,250C390,260 388,248 420,240C452,232 448,212 455,225C462,238 452,245 440,280C428,315 420,300 420,330C420,360 417,360 440,370C463,380 463,350 490,360C517,370 497,388 520,400C543,412 533,412 560,395C587,378 567,375 600,350C633,325 620,323 660,320C700,317 707,323 720,340C733,357 727,350 700,370C673,390 673,380 640,400C607,420 627,410 600,430C573,450 580,437 560,460C540,483 533,480 540,500C547,520 550,512 580,520C610,528 603,512 630,525C657,538 648,528 660,560C672,592 668,583 665,620C662,657 672,643 650,670C628,697 637,680 600,700C563,720 580,715 540,730C500,745 513,748 480,745C447,742 470,738 440,720C410,702 423,717 390,690C357,663 370,677 340,640C310,603 323,627 300,580C277,533 290,550 270,500C250,450 263,483 240,430C217,377 218,397 200,340C182,283 187,307 185,260C183,213 177,213 195,200C213,187 215,233 240,220C265,207 250,177 270,160C290,143 283,177 300,170C317,163 305,162 320,140C335,118 333,102 345,105Z" fill="#434343" stroke="#434343" stroke-width="50" stroke-linejoin="round"/><path d="M345,105C357,108 360,115 355,150C350,185 328,177 330,210C332,243 330,240 360,250C390,260 388,248 420,240C452,232 448,212 455,225C462,238 452,245 440,280C428,315 420,300 420,330C420,360 417,360 440,370C463,380 463,350 490,360C517,370 497,388 520,400C543,412 533,412 560,395C587,378 567,375 600,350C633,325 620,323 660,320C700,317 707,323 720,340C733,357 727,350 700,370C673,390 673,380 640,400C607,420 627,410 600,430C573,450 580,437 560,460C540,483 533,480 540,500C547,520 550,512 580,520C610,528 603,512 630,525C657,538 648,528 660,560C672,592 668,583 665,620C662,657 672,643 650,670C628,697 637,680 600,700C563,720 580,715 540,730C500,745 513,748 480,745C447,742 470,738 440,720C410,702 423,717 390,690C357,663 370,677 340,640C310,603 323,627 300,580C277,533 290,550 270,500C250,450 263,483 240,430C217,377 218,397 200,340C182,283 187,307 185,260C183,213 177,213 195,200C213,187 215,233 240,220C265,207 250,177 270,160C290,143 283,177 300,170C317,163 305,162 320,140C335,118 333,102 345,105Z" fill="#4c4c4c" stroke="#4c4c4c" stroke-width="24" stroke-linejoin="round"/><path d="M345,105C357,108 360,115 355,150C350,185 328,177 330,210C332,243 330,240 360,250C390,260 388,248 420,240C452,232 448,212 455,225C462,238 452,245 440,280C428,315 420,300 420,330C420,360 417,360 440,370C463,380 463,350 490,360C517,370 497,388 520,400C543,412 533,412 560,395C587,378 567,375 600,350C633,325 620,323 660,320C700,317 707,323 720,340C733,357 727,350 700,370C673,390 673,380 640,400C607,420 627,410 600,430C573,450 580,437 560,460C540,483 533,480 540,500C547,520 550,512 580,520C610,528 603,512 630,525C657,538 648,528 660,560C672,592 668,583 665,620C662,657 672,643 650,670C628,697 637,680 600,700C563,720 580,715 540,730C500,745 513,748 480,745C447,742 470,738 440,720C410,702 423,717 390,690C357,663 370,677 340,640C310,603 323,627 300,580C277,533 290,550 270,500C250,450 263,483 240,430C217,377 218,397 200,340C182,283 187,307 185,260C183,213 177,213 195,200C213,187 215,233 240,220C265,207 250,177 270,160C290,143 283,177 300,170C317,163 305,162 320,140C335,118 333,102 345,105Z" fill="#6f6f6f"/><ellipse cx="250" cy="300" rx="8" ry="20" fill="#585858"/><ellipse cx="300" cy="230" rx="14" ry="10" fill="#585858"/><ellipse cx="220" cy="330" rx="8" ry="16" fill="#585858"/><ellipse cx="480" cy="385" rx="14" ry="8" fill="#585858"/><ellipse cx="640" cy="345" rx="14" ry="8" fill="#585858"/><path d="M330,300C357,283 357,277 380,290C403,303 380,303 400,340C420,377 410,367 440,400C470,433 463,410 490,440C517,470 503,460 520,490C537,520 513,513 540,530C567,547 567,527 600,540C633,553 623,543 640,570C657,597 653,590 650,620C647,650 653,637 630,660C607,683 617,672 580,690C543,708 560,708 520,715C480,722 500,725 460,710C420,695 437,700 400,670C363,640 380,657 350,620C320,583 330,607 310,560C290,513 300,533 290,480C280,427 277,447 280,400C283,353 283,373 300,340C317,307 303,317 330,300Z" fill="#9b9b9b"/><ellipse cx="345" cy="275" rx="26" ry="30" fill="#949494"/><ellipse cx="530" cy="430" rx="16" ry="20" fill="#909090"/><ellipse cx="615" cy="372" rx="22" ry="12" fill="#868686"/><path d="M330,470C352,437 353,447 400,440C447,433 430,430 470,450C510,470 490,463 520,500C550,537 533,513 560,560C587,607 587,597 600,640C613,683 617,665 600,690C583,715 590,708 550,715C510,722 523,725 480,710C437,695 457,703 420,670C383,637 398,653 370,610C342,567 348,587 335,540C322,493 308,503 330,470Z" fill="#b5b5b5"/><path d="M370,500C385,467 393,480 430,480C467,480 450,477 480,500C510,523 493,510 520,550C547,590 540,577 560,620C580,663 590,653 580,680C570,707 567,700 530,700C493,700 507,700 470,680C433,660 448,673 420,640C392,607 402,627 385,580C368,533 355,533 370,500Z" fill="#c7c7c7"/><ellipse cx="445" cy="545" rx="30" ry="34" fill="#d3d3d3"/><ellipse cx="515" cy="630" rx="22" ry="48" fill="#d3d3d3" transform="rotate(-30 515 630)"/><ellipse cx="565" cy="585" rx="12" ry="12" fill="#797979"/><ellipse cx="322" cy="462" rx="7" ry="28" fill="#7b7b7b"/><ellipse cx="540" cy="505" rx="14" ry="12" fill="#4c4c4c"/><ellipse cx="740" cy="490" rx="36" ry="30" fill="#6f6f6f" transform="rotate(20 740 490)"/><ellipse cx="742" cy="490" rx="20" ry="16" fill="#828282" transform="rotate(20 742 490)"/><ellipse cx="690" cy="430" rx="14" ry="8" fill="#5a5a5a"/><ellipse cx="660" cy="212" rx="22" ry="9" fill="#5a5a5a"/><ellipse cx="600" cy="232" rx="10" ry="5" fill="#5a5a5a"/><ellipse cx="820" cy="172" rx="8" ry="5" fill="#5a5a5a"/><ellipse cx="722" cy="582" rx="9" ry="6" fill="#5a5a5a"/><ellipse cx="545" cy="188" rx="6" ry="4" fill="#5a5a5a"/><ellipse cx="245" cy="550" rx="5" ry="4" fill="#5a5a5a"/><ellipse cx="775" cy="515" rx="8" ry="5" fill="#5a5a5a"/></g>
<g id="storm4"><rect x="-80" y="-80" width="1330" height="1330" fill="#2a2a2a"/><g filter="url(#soft)"><path d="M60,60C407,-73 753,13 1100,60C1447,107 1233,123 1100,200C967,277 880,250 700,290C520,330 693,343 560,320C427,297 420,187 300,220C180,253 280,340 200,420C120,500 107,580 60,460C13,340 -287,193 60,60Z" fill="#3c3c3c"/><path d="M850,300C917,207 1017,187 1100,280C1183,373 1167,487 1100,580C1033,673 983,653 900,560C817,467 783,393 850,300Z" fill="#343434"/><path d="M880,640C882,680 888,687 885,760C882,833 875,827 870,860" fill="none" stroke="#353535" stroke-width="40" stroke-linecap="round" stroke-linejoin="round"/><path d="M120,960C147,940 107,927 200,900C293,873 333,887 400,880" fill="none" stroke="#313131" stroke-width="40" stroke-linecap="round" stroke-linejoin="round"/><path d="M300,800C387,807 407,847 560,820C713,793 693,753 760,720" fill="none" stroke="#2e2e2e" stroke-width="60" stroke-linecap="round" stroke-linejoin="round"/><path d="M520,240C553,177 600,220 700,250C800,280 787,260 820,330C853,400 840,397 800,460C760,523 767,527 700,520C633,513 660,533 600,440C540,347 487,303 520,240Z" fill="#464646"/><path d="M730,100C843,67 977,53 1100,100C1223,147 1167,187 1100,240C1033,293 1013,273 900,260C787,247 817,253 760,200C703,147 617,133 730,100Z" fill="#414141"/><path d="M410,160C437,155 428,137 440,150C452,163 435,170 445,200C455,230 458,210 470,240C482,270 463,260 480,290C497,320 498,300 520,330C542,360 532,347 545,380C558,413 538,403 560,430C582,457 570,437 610,460C650,483 670,483 680,500C690,517 667,503 640,510C613,517 608,500 600,520C592,540 598,540 615,570C632,600 630,587 650,610C670,633 675,622 675,640C675,658 668,668 650,665C632,662 640,638 620,630C600,622 617,630 590,640C563,650 577,655 540,660C503,665 520,662 480,655C440,648 453,655 420,640C387,625 407,633 380,610C353,587 367,603 340,570C313,537 323,550 300,510C277,470 292,490 270,450C248,410 245,423 235,390C225,357 228,370 240,350C252,330 262,353 270,330C278,307 262,317 265,280C268,243 265,252 280,220C295,188 283,203 310,185C337,167 327,173 360,165C393,157 383,165 410,160Z" fill="#3a3a3a" stroke="#3a3a3a" stroke-width="90" stroke-linejoin="round"/></g><path d="M410,160C437,155 428,137 440,150C452,163 435,170 445,200C455,230 458,210 470,240C482,270 463,260 480,290C497,320 498,300 520,330C542,360 532,347 545,380C558,413 538,403 560,430C582,457 570,437 610,460C650,483 670,483 680,500C690,517 667,503 640,510C613,517 608,500 600,520C592,540 598,540 615,570C632,600 630,587 650,610C670,633 675,622 675,640C675,658 668,668 650,665C632,662 640,638 620,630C600,622 617,630 590,640C563,650 577,655 540,660C503,665 520,662 480,655C440,648 453,655 420,640C387,625 407,633 380,610C353,587 367,603 340,570C313,537 323,550 300,510C277,470 292,490 270,450C248,410 245,423 235,390C225,357 228,370 240,350C252,330 262,353 270,330C278,307 262,317 265,280C268,243 265,252 280,220C295,188 283,203 310,185C337,167 327,173 360,165C393,157 383,165 410,160Z" fill="#434343" stroke="#434343" stroke-width="46" stroke-linejoin="round"/><path d="M410,160C437,155 428,137 440,150C452,163 435,170 445,200C455,230 458,210 470,240C482,270 463,260 480,290C497,320 498,300 520,330C542,360 532,347 545,380C558,413 538,403 560,430C582,457 570,437 610,460C650,483 670,483 680,500C690,517 667,503 640,510C613,517 608,500 600,520C592,540 598,540 615,570C632,600 630,587 650,610C670,633 675,622 675,640C675,658 668,668 650,665C632,662 640,638 620,630C600,622 617,630 590,640C563,650 577,655 540,660C503,665 520,662 480,655C440,648 453,655 420,640C387,625 407,633 380,610C353,587 367,603 340,570C313,537 323,550 300,510C277,470 292,490 270,450C248,410 245,423 235,390C225,357 228,370 240,350C252,330 262,353 270,330C278,307 262,317 265,280C268,243 265,252 280,220C295,188 283,203 310,185C337,167 327,173 360,165C393,157 383,165 410,160Z" fill="#4c4c4c" stroke="#4c4c4c" stroke-width="22" stroke-linejoin="round"/><path d="M530,190C540,167 550,163 600,160C650,157 640,155 680,180C720,205 733,212 720,235C707,258 690,252 640,250C590,248 607,250 570,230C533,210 520,213 530,190Z" fill="#6b6b6b"/><ellipse cx="692" cy="142" rx="42" ry="24" fill="#5d5d5d"/><ellipse cx="842" cy="215" rx="60" ry="22" fill="#5a5a5a"/><ellipse cx="962" cy="276" rx="20" ry="10" fill="#6b6b6b"/><ellipse cx="1000" cy="152" rx="24" ry="18" fill="#5a5a5a"/><ellipse cx="1052" cy="180" rx="10" ry="8" fill="#5a5a5a"/><ellipse cx="722" cy="380" rx="26" ry="11" fill="#5a5a5a"/><ellipse cx="150" cy="113" rx="9" ry="5" fill="#585858"/><ellipse cx="560" cy="140" rx="10" ry="16" fill="#616161"/><ellipse cx="350" cy="135" rx="8" ry="12" fill="#5d5d5d"/><ellipse cx="495" cy="180" rx="6" ry="10" fill="#5d5d5d"/><path d="M410,160C437,155 428,137 440,150C452,163 435,170 445,200C455,230 458,210 470,240C482,270 463,260 480,290C497,320 498,300 520,330C542,360 532,347 545,380C558,413 538,403 560,430C582,457 570,437 610,460C650,483 670,483 680,500C690,517 667,503 640,510C613,517 608,500 600,520C592,540 598,540 615,570C632,600 630,587 650,610C670,633 675,622 675,640C675,658 668,668 650,665C632,662 640,638 620,630C600,622 617,630 590,640C563,650 577,655 540,660C503,665 520,662 480,655C440,648 453,655 420,640C387,625 407,633 380,610C353,587 367,603 340,570C313,537 323,550 300,510C277,470 292,490 270,450C248,410 245,423 235,390C225,357 228,370 240,350C252,330 262,353 270,330C278,307 262,317 265,280C268,243 265,252 280,220C295,188 283,203 310,185C337,167 327,173 360,165C393,157 383,165 410,160Z" fill="#6f6f6f"/><path d="M640,600C648,613 657,627 665,640" fill="none" stroke="#5d5d5d" stroke-width="14" stroke-linecap="round" stroke-linejoin="round"/><path d="M410,180C427,190 417,183 430,210C443,237 437,227 450,260C463,293 447,277 470,310C493,343 497,323 520,360C543,397 523,383 540,420C557,457 550,437 570,470C590,503 587,487 600,520C613,553 613,537 610,570C607,603 613,595 590,620C567,645 577,638 540,645C503,652 517,647 480,640C443,633 460,638 430,625C400,612 417,622 390,600C363,578 377,593 350,560C323,527 332,543 310,500C288,457 297,480 285,430C273,380 277,400 275,350C273,300 272,323 280,280C288,237 280,248 300,220C320,192 313,208 340,195C367,182 357,185 380,180C403,175 393,170 410,180Z" fill="#9b9b9b"/><ellipse cx="250" cy="392" rx="10" ry="44" fill="#929292" transform="rotate(-8 250 392)"/><path d="M350,380C373,357 370,352 405,350C440,348 427,348 455,375C483,402 473,392 490,430C507,468 485,467 505,490C525,513 521,485 550,500C579,515 575,507 592,535C609,563 609,553 602,585C595,617 604,609 570,630C536,651 545,646 500,648C455,650 472,651 435,635C398,619 417,630 390,600C363,570 375,585 355,545C335,505 337,522 330,480C323,438 328,453 335,420C342,387 327,403 350,380Z" fill="#b5b5b5"/><path d="M385,430C405,412 403,402 430,405C457,408 450,408 465,440C480,472 457,473 475,500C493,527 490,503 520,520C550,537 547,528 565,550C583,572 583,563 575,585C567,607 568,602 540,615C512,628 523,628 490,625C457,622 470,623 440,605C410,587 422,602 400,570C378,538 385,547 375,510C365,473 367,487 370,460C373,433 365,448 385,430Z" fill="#c7c7c7"/><path d="M400,450C417,422 413,415 435,415C457,415 453,415 465,450C477,485 458,483 470,520C482,557 480,537 500,560C520,583 530,572 530,590C530,608 527,615 500,615C473,615 480,612 450,590C420,568 432,580 410,550C388,520 388,533 385,500C382,467 383,478 400,450Z" fill="#dadada"/><ellipse cx="440" cy="540" rx="16" ry="18" fill="#e3e3e3"/></g>
<clipPath id="cp0"><rect x="717.9" y="938.2" width="200.39999999999998" height="199.6"/></clipPath>
<clipPath id="cp1"><rect x="717.9" y="1175.6" width="200.39999999999998" height="199.6"/></clipPath>
<clipPath id="cp2"><rect x="717.9" y="1413.1" width="200.39999999999998" height="199.6"/></clipPath>
<clipPath id="cp3"><rect x="717.9" y="1650.5" width="200.39999999999998" height="199.6"/></clipPath>
<clipPath id="cp4"><rect x="717.9" y="1888.1" width="200.39999999999998" height="199.6"/></clipPath>
<clipPath id="tcp0"><rect x="69.5" y="147.5" width="125.0" height="124"/></clipPath>
<g id="irg0"><g clip-path="url(#tcp0)"><g filter="url(#graymap)"><use href="#storm0" transform="translate(58.32,136.13) scale(0.12834)"/></g></g></g>
<clipPath id="tcp1"><rect x="212.3" y="147.5" width="125.0" height="124"/></clipPath>
<g id="irg1"><g clip-path="url(#tcp1)"><g filter="url(#graymap)"><use href="#storm1" transform="translate(201.12,134.63) scale(0.12834)"/></g></g></g>
<clipPath id="tcp2"><rect x="354.5" y="147.5" width="125.0" height="124"/></clipPath>
<g id="irg2"><g clip-path="url(#tcp2)"><g filter="url(#graymap)"><use href="#storm2" transform="translate(343.32,134.95) scale(0.12834)"/></g></g></g>
<clipPath id="tcp3"><rect x="496.7" y="147.5" width="125.0" height="124"/></clipPath>
<g id="irg3"><g clip-path="url(#tcp3)"><g filter="url(#graymap)"><use href="#storm3" transform="translate(485.52,134.69) scale(0.12834)"/></g></g></g>
<clipPath id="tcp4"><rect x="639.4" y="147.5" width="125.0" height="124"/></clipPath>
<g id="irg4"><g clip-path="url(#tcp4)"><g filter="url(#graymap)"><use href="#storm4" transform="translate(628.22,134.95) scale(0.12834)"/></g></g></g>
</defs>
<text x="584.00" y="24.70" font-size="20.83" text-anchor="middle" fill="#000">Estimated Max Wind Speed for 08E at 20250810 0310UTC</text>
<text x="131.70" y="102.60" font-size="15.28" text-anchor="middle" fill="#000">IR from</text>
<text x="131.70" y="119.90" font-size="15.28" text-anchor="middle" fill="#000">20250810</text>
<text x="131.70" y="138.00" font-size="15.28" text-anchor="middle" fill="#000">at 0310UTC</text>
<use href="#irg0"/>
<rect x="69.50" y="147.50" width="125.00" height="124.00" fill="none" stroke="#000" stroke-width="1.11"/>
<text x="274.50" y="102.60" font-size="15.28" text-anchor="middle" fill="#000">IR from</text>
<text x="274.50" y="119.90" font-size="15.28" text-anchor="middle" fill="#000">20250810</text>
<text x="274.50" y="138.00" font-size="15.28" text-anchor="middle" fill="#000">at 0010UTC</text>
<use href="#irg1"/>
<rect x="212.30" y="147.50" width="125.00" height="124.00" fill="none" stroke="#000" stroke-width="1.11"/>
<text x="416.70" y="102.60" font-size="15.28" text-anchor="middle" fill="#000">IR from</text>
<text x="416.70" y="119.90" font-size="15.28" text-anchor="middle" fill="#000">20250809</text>
<text x="416.70" y="138.00" font-size="15.28" text-anchor="middle" fill="#000">at 2110UTC</text>
<use href="#irg2"/>
<rect x="354.50" y="147.50" width="125.00" height="124.00" fill="none" stroke="#000" stroke-width="1.11"/>
<text x="558.90" y="102.60" font-size="15.28" text-anchor="middle" fill="#000">IR from</text>
<text x="558.90" y="119.90" font-size="15.28" text-anchor="middle" fill="#000">20250809</text>
<text x="558.90" y="138.00" font-size="15.28" text-anchor="middle" fill="#000">at 1810UTC</text>
<use href="#irg3"/>
<rect x="496.70" y="147.50" width="125.00" height="124.00" fill="none" stroke="#000" stroke-width="1.11"/>
<text x="701.60" y="102.60" font-size="15.28" text-anchor="middle" fill="#000">IR from</text>
<text x="701.60" y="119.90" font-size="15.28" text-anchor="middle" fill="#000">20250809</text>
<text x="701.60" y="138.00" font-size="15.28" text-anchor="middle" fill="#000">at 1510UTC</text>
<use href="#irg4"/>
<rect x="639.40" y="147.50" width="125.00" height="124.00" fill="none" stroke="#000" stroke-width="1.11"/>
<text x="934.50" y="49.80" font-size="15.28" text-anchor="middle" fill="#000">Estimated MSW, knots</text>
<polygon points="801.97,359.50 801.97,356.18 825.98,356.18 825.98,320.23 827.82,320.23 827.82,290.25 831.03,290.25 831.03,238.24 834.09,238.24 834.09,182.26 838.07,182.26 838.07,126.12 840.06,126.12 840.06,113.12 843.12,113.12 843.12,72.89 844.95,72.89 844.95,102.72 848.01,102.72 848.01,155.03 851.84,155.03 851.84,178.13 855.97,178.13 855.97,251.09 861.93,251.09 861.93,300.04 867.90,300.04 867.90,328.18 874.93,328.18 874.93,344.09 878.91,344.09 878.91,359.39 878.91,359.50" fill="#8b008b"/>
<rect x="834.22" y="353.94" width="5.56" height="5.56" fill="#a9a9a9" stroke="none" stroke-width="1.11"/>
<rect x="834.22" y="339.21" width="5.56" height="5.56" fill="#a9a9a9" stroke="none" stroke-width="1.11"/>
<rect x="834.22" y="324.48" width="5.56" height="5.56" fill="#a9a9a9" stroke="none" stroke-width="1.11"/>
<rect x="834.22" y="309.75" width="5.56" height="5.56" fill="#a9a9a9" stroke="none" stroke-width="1.11"/>
<rect x="834.22" y="295.02" width="5.56" height="5.56" fill="#a9a9a9" stroke="none" stroke-width="1.11"/>
<rect x="834.22" y="280.29" width="5.56" height="5.56" fill="#a9a9a9" stroke="none" stroke-width="1.11"/>
<rect x="834.22" y="265.56" width="5.56" height="5.56" fill="#a9a9a9" stroke="none" stroke-width="1.11"/>
<rect x="834.22" y="250.83" width="5.56" height="5.56" fill="#a9a9a9" stroke="none" stroke-width="1.11"/>
<rect x="834.22" y="236.10" width="5.56" height="5.56" fill="#a9a9a9" stroke="none" stroke-width="1.11"/>
<rect x="834.22" y="221.37" width="5.56" height="5.56" fill="#a9a9a9" stroke="none" stroke-width="1.11"/>
<rect x="834.22" y="206.64" width="5.56" height="5.56" fill="#a9a9a9" stroke="none" stroke-width="1.11"/>
<rect x="834.22" y="191.91" width="5.56" height="5.56" fill="#a9a9a9" stroke="none" stroke-width="1.11"/>
<rect x="834.22" y="177.18" width="5.56" height="5.56" fill="#a9a9a9" stroke="none" stroke-width="1.11"/>
<rect x="834.22" y="162.45" width="5.56" height="5.56" fill="#a9a9a9" stroke="none" stroke-width="1.11"/>
<rect x="834.22" y="147.72" width="5.56" height="5.56" fill="#a9a9a9" stroke="none" stroke-width="1.11"/>
<rect x="834.22" y="132.99" width="5.56" height="5.56" fill="#a9a9a9" stroke="none" stroke-width="1.11"/>
<rect x="834.22" y="118.26" width="5.56" height="5.56" fill="#a9a9a9" stroke="none" stroke-width="1.11"/>
<rect x="834.22" y="103.53" width="5.56" height="5.56" fill="#a9a9a9" stroke="none" stroke-width="1.11"/>
<rect x="834.22" y="88.80" width="5.56" height="5.56" fill="#a9a9a9" stroke="none" stroke-width="1.11"/>
<rect x="834.22" y="74.07" width="5.56" height="5.56" fill="#a9a9a9" stroke="none" stroke-width="1.11"/>
<rect x="834.22" y="59.50" width="5.56" height="5.40" fill="#a9a9a9" stroke="none" stroke-width="1.11"/>
<line x1="845.90" y1="59.50" x2="845.90" y2="359.50" stroke="#000" stroke-width="2.08"/>
<rect x="784.50" y="59.50" width="300.00" height="300.00" fill="none" stroke="#000" stroke-width="1.11"/>
<line x1="819.79" y1="359.50" x2="819.79" y2="364.36" stroke="#000" stroke-width="1.11"/>
<text x="819.79" y="379.82" font-size="13.89" text-anchor="middle" fill="#000">25</text>
<line x1="863.91" y1="359.50" x2="863.91" y2="364.36" stroke="#000" stroke-width="1.11"/>
<text x="863.91" y="379.82" font-size="13.89" text-anchor="middle" fill="#000">50</text>
<line x1="908.03" y1="359.50" x2="908.03" y2="364.36" stroke="#000" stroke-width="1.11"/>
<text x="908.03" y="379.82" font-size="13.89" text-anchor="middle" fill="#000">75</text>
<line x1="952.15" y1="359.50" x2="952.15" y2="364.36" stroke="#000" stroke-width="1.11"/>
<text x="952.15" y="379.82" font-size="13.89" text-anchor="middle" fill="#000">100</text>
<line x1="996.26" y1="359.50" x2="996.26" y2="364.36" stroke="#000" stroke-width="1.11"/>
<text x="996.26" y="379.82" font-size="13.89" text-anchor="middle" fill="#000">125</text>
<line x1="1040.38" y1="359.50" x2="1040.38" y2="364.36" stroke="#000" stroke-width="1.11"/>
<text x="1040.38" y="379.82" font-size="13.89" text-anchor="middle" fill="#000">150</text>
<text x="1089.40" y="364.80" font-size="13.89" text-anchor="start" fill="#000">0.0</text>
<line x1="1079.64" y1="302.36" x2="1084.50" y2="302.36" stroke="#000" stroke-width="1.11"/>
<line x1="784.50" y1="302.36" x2="789.36" y2="302.36" stroke="#000" stroke-width="1.11"/>
<text x="1089.40" y="307.66" font-size="13.89" text-anchor="start" fill="#000">0.2</text>
<line x1="1079.64" y1="245.21" x2="1084.50" y2="245.21" stroke="#000" stroke-width="1.11"/>
<line x1="784.50" y1="245.21" x2="789.36" y2="245.21" stroke="#000" stroke-width="1.11"/>
<text x="1089.40" y="250.51" font-size="13.89" text-anchor="start" fill="#000">0.4</text>
<line x1="1079.64" y1="188.07" x2="1084.50" y2="188.07" stroke="#000" stroke-width="1.11"/>
<line x1="784.50" y1="188.07" x2="789.36" y2="188.07" stroke="#000" stroke-width="1.11"/>
<text x="1089.40" y="193.37" font-size="13.89" text-anchor="start" fill="#000">0.6</text>
<line x1="1079.64" y1="130.93" x2="1084.50" y2="130.93" stroke="#000" stroke-width="1.11"/>
<line x1="784.50" y1="130.93" x2="789.36" y2="130.93" stroke="#000" stroke-width="1.11"/>
<text x="1089.40" y="136.23" font-size="13.89" text-anchor="start" fill="#000">0.8</text>
<line x1="1079.64" y1="73.79" x2="1084.50" y2="73.79" stroke="#000" stroke-width="1.11"/>
<line x1="784.50" y1="73.79" x2="789.36" y2="73.79" stroke="#000" stroke-width="1.11"/>
<text x="1089.40" y="79.09" font-size="13.89" text-anchor="start" fill="#000">1.0</text>
<text x="1126.70" y="211.00" font-size="13.89" text-anchor="middle" fill="#000" transform="rotate(-90 1126.70 211.00)">Relative Prob</text>
<line x1="765.30" y1="396.30" x2="796.50" y2="396.30" stroke="#000" stroke-width="2.08"/>
<text x="809.00" y="401.80" font-size="15.28" text-anchor="start" fill="#000">D-PRINT average</text>
<rect x="967.42" y="393.52" width="5.56" height="5.56" fill="#a9a9a9" stroke="none" stroke-width="1.11"/>
<rect x="982.12" y="393.52" width="5.56" height="5.56" fill="#a9a9a9" stroke="none" stroke-width="1.11"/>
<rect x="996.82" y="393.52" width="5.56" height="5.56" fill="#a9a9a9" stroke="none" stroke-width="1.11"/>
<text x="1012.40" y="401.80" font-size="15.28" text-anchor="start" fill="#000">NHC official</text>
<text x="584.00" y="441.50" font-size="19.44" text-anchor="middle" fill="#000">D-PRINT SHAP Values for 2025_08E: updated at 20250810 0310 UTC</text>
<clipPath id="c2"><rect x="82.6" y="453.4" width="1006.1" height="349.5"/></clipPath>
<g clip-path="url(#c2)"><line x1="82.60" y1="703.04" x2="1088.70" y2="703.04" stroke="#e6e6e6" stroke-width="6.94"/>
<polyline points="111.2,768.2 119.0,775.7 125.6,772.4 133.0,764.1 140.5,760.6 147.9,773.0 151.7,771.7 157.9,773.9 165.7,773.0 170.8,772.4 172.4,774.4 174.6,771.9 176.8,773.5 180.2,767.3 184.2,770.2 190.2,769.5 194.2,764.1 198.0,775.3 202.0,767.9 205.1,761.5 208.7,767.3 212.4,752.3 216.9,749.5 220.7,747.4 223.6,742.3 226.9,745.7 229.6,748.6 232.5,747.9 236.9,753.9 240.7,754.6 244.3,753.9 247.4,765.7 251.4,765.0 254.7,764.1 258.1,758.4 264.8,751.7 272.6,762.8 279.2,752.3 282.6,750.8 285.9,758.4 290.4,764.1 300.4,738.3 303.3,742.3 307.1,746.1 310.4,754.6 314.2,760.6 318.2,751.7 324.9,744.6 328.9,750.8 332.2,762.4 336.0,757.9 340.0,754.6 342.9,763.5 350.0,758.4 353.4,759.0 357.2,757.5 360.1,758.4 363.4,756.1 367.4,745.7 370.7,750.1 374.5,743.0 377.9,746.1 382.3,748.1 388.3,747.4 390.5,757.5 392.3,750.1 395.7,751.7 399.0,755.0 402.3,749.0 406.1,747.4 409.7,749.5 413.0,758.4 416.8,749.5 421.3,753.9 426.2,759.0 430.6,754.6 436.8,759.0 441.3,760.1 445.1,762.4 451.3,757.9 455.3,765.0 459.8,761.5 466.2,761.9 468.5,765.7 469.8,761.2 473.1,765.0 478.7,761.9 484.3,756.8 488.0,756.8 491.4,759.0 494.7,755.2 498.5,760.1 501.4,761.2 505.9,765.7 510.8,771.3 512.5,767.9 518.1,769.5 522.6,769.0 528.8,764.6 533.0,756.8 538.1,768.4 539.9,767.9 544.4,761.2 547.7,758.4 551.5,759.7 558.2,753.5 561.5,757.9 568.9,757.2 576.0,766.8 579.3,764.1 582.7,771.3 587.8,772.4 593.8,774.6 597.4,771.3 600.5,772.4 604.5,778.4 607.8,776.8 612.3,778.6 615.6,777.3 619.0,773.5 622.3,774.6 625.2,773.0 629.4,779.5 638.3,779.5 640.1,777.9 642.8,779.5 646.8,775.7 650.1,776.4 654.6,773.0 658.4,773.5 660.6,775.7 664.1,782.4 667.9,781.7 674.6,783.1 681.3,783.5 685.7,788.0 692.4,782.8 695.8,781.3 700.2,777.9 705.8,779.1 710.2,782.8 713.1,780.2 716.2,779.5 720.7,785.7 726.9,788.0 730.9,786.8 734.7,788.4 741.4,788.0 745.2,784.6 748.7,789.1 751.8,785.7 755.4,788.6 760.3,783.5 764.1,781.3 768.1,785.1 773.7,786.8 780.3,790.6 783.7,790.2 787.5,793.1 791.5,789.1 799.3,789.5 804.8,790.6 808.2,786.8 811.5,790.2 815.5,793.1 819.3,790.6 826.0,792.4 832.7,791.3 836.7,790.2 848.9,789.1 854.5,793.5 866.7,796.4 874.5,794.2 881.6,790.2 888.3,789.5 895.7,794.2 902.3,790.2 909.0,790.2 916.8,795.3 924.6,791.7 930.2,792.9 938.4,796.4 944.6,792.4 951.3,790.2 958.7,790.2 963.1,792.4 966.9,792.4 972.5,788.4 976.5,784.0 978.0,785.3 981.4,784.2 984.7,781.7 988.5,783.5 992.9,776.4 1000.3,781.3 1004.7,777.9 1005.9,780.2 1009.9,774.6 1019.2,777.9 1021.0,774.6 1023.2,777.3 1028.1,772.4 1032.6,776.4 1034.8,770.8 1038.1,770.2 1041.5,775.7 1045.5,766.8 1048.6,767.9 1051.5,762.4 1056.6,762.4 1059.3,758.4 1066.0,774.6 1070.0,777.3 1074.9,772.4 1077.8,774.6 1081.5,767.9 1084.2,760.6 1088.2,764.1" fill="none" stroke="#dc143c" stroke-width="2.3" stroke-linejoin="round"/>
<polyline points="111.3,706.3 176.5,706.0 241.8,705.3 307.0,704.3 372.2,703.0 437.4,702.3 502.7,701.8 567.9,701.5 633.1,701.0 698.3,700.5 763.6,700.0 828.8,700.0 894.0,699.8 959.2,699.8 1024.5,699.7 1089.7,699.8" fill="none" stroke="#40e0f0" stroke-width="2.65" stroke-linejoin="round"/>
<polyline points="111.3,694.3 139.3,694.8 167.2,695.1 195.2,694.8 223.1,694.6 251.1,694.8 279.0,694.6 307.0,694.9 334.9,695.1 362.9,695.3 390.8,695.6 418.8,695.8 446.8,695.9 474.7,696.1 502.7,696.3 530.6,696.6 558.6,696.8 586.5,696.9 614.5,697.1 642.4,697.3 670.4,697.6 698.3,697.8 726.3,697.9 754.2,698.0 782.2,698.2 810.2,698.3 838.1,698.3 866.1,698.2 894.0,698.3 922.0,698.4 949.9,698.3 977.9,698.2 1005.8,698.0 1033.8,697.9 1061.7,697.8 1089.7,697.9" fill="none" stroke="#3cb44b" stroke-width="2.65" stroke-linejoin="round"/>
<polyline points="111.3,713.0 157.9,712.3 204.5,711.3 251.1,710.3 297.7,709.5 344.3,708.8 390.8,708.0 437.4,707.3 484.0,706.0 530.6,705.0 577.2,704.0 623.8,703.3 670.4,702.8 717.0,702.5 763.6,702.7 810.2,702.5 856.7,702.5 903.3,702.5 949.9,702.8 996.5,702.5 1043.1,702.5 1089.7,702.5" fill="none" stroke="#f032e6" stroke-width="2.65" stroke-linejoin="round"/>
<polyline points="111.3,702.8 150.4,703.8 189.6,704.5 228.7,705.3 267.8,705.5 307.0,706.3 346.1,706.8 385.3,706.8 424.4,706.3 463.5,705.8 502.7,705.0 541.8,704.5 580.9,704.0 620.1,703.5 659.2,703.0 698.3,702.8 737.5,702.8 776.6,702.5 815.7,702.3 854.9,702.0 894.0,702.3 933.2,702.0 972.3,701.8 1011.4,701.5 1050.6,701.0 1089.7,701.0" fill="none" stroke="#f58231" stroke-width="2.65" stroke-linejoin="round"/>
<polyline points="91.6,777.9 133.9,777.9 176.3,753.0 218.6,740.5 642.0,740.5 684.3,765.5 811.3,765.5 938.3,777.9 980.7,777.9 1023.0,765.5 1099.2,765.5" fill="none" stroke="#000" stroke-width="2.9" stroke-linejoin="round" stroke-linejoin="miter" stroke-linecap="square"/></g>
<rect x="82.60" y="453.40" width="1006.10" height="349.50" fill="none" stroke="#000" stroke-width="1.11"/>
<line x1="77.74" y1="802.90" x2="82.60" y2="802.90" stroke="#000" stroke-width="1.11"/>
<text x="72.90" y="808.70" font-size="15.28" text-anchor="end" fill="#000">-40</text>
<line x1="77.74" y1="777.94" x2="82.60" y2="777.94" stroke="#000" stroke-width="1.11"/>
<line x1="77.74" y1="752.97" x2="82.60" y2="752.97" stroke="#000" stroke-width="1.11"/>
<text x="72.90" y="758.77" font-size="15.28" text-anchor="end" fill="#000">-20</text>
<line x1="77.74" y1="728.01" x2="82.60" y2="728.01" stroke="#000" stroke-width="1.11"/>
<line x1="77.74" y1="703.04" x2="82.60" y2="703.04" stroke="#000" stroke-width="1.11"/>
<text x="72.90" y="708.84" font-size="15.28" text-anchor="end" fill="#000">0</text>
<line x1="77.74" y1="678.08" x2="82.60" y2="678.08" stroke="#000" stroke-width="1.11"/>
<line x1="77.74" y1="653.11" x2="82.60" y2="653.11" stroke="#000" stroke-width="1.11"/>
<text x="72.90" y="658.91" font-size="15.28" text-anchor="end" fill="#000">20</text>
<line x1="77.74" y1="628.15" x2="82.60" y2="628.15" stroke="#000" stroke-width="1.11"/>
<line x1="77.74" y1="603.19" x2="82.60" y2="603.19" stroke="#000" stroke-width="1.11"/>
<text x="72.90" y="608.99" font-size="15.28" text-anchor="end" fill="#000">40</text>
<line x1="77.74" y1="578.22" x2="82.60" y2="578.22" stroke="#000" stroke-width="1.11"/>
<line x1="77.74" y1="553.26" x2="82.60" y2="553.26" stroke="#000" stroke-width="1.11"/>
<text x="72.90" y="559.06" font-size="15.28" text-anchor="end" fill="#000">60</text>
<line x1="77.74" y1="528.29" x2="82.60" y2="528.29" stroke="#000" stroke-width="1.11"/>
<line x1="77.74" y1="503.33" x2="82.60" y2="503.33" stroke="#000" stroke-width="1.11"/>
<text x="72.90" y="509.13" font-size="15.28" text-anchor="end" fill="#000">80</text>
<line x1="77.74" y1="478.36" x2="82.60" y2="478.36" stroke="#000" stroke-width="1.11"/>
<line x1="77.74" y1="453.40" x2="82.60" y2="453.40" stroke="#000" stroke-width="1.11"/>
<text x="72.90" y="459.20" font-size="15.28" text-anchor="end" fill="#000">100</text>
<line x1="1088.70" y1="802.90" x2="1093.56" y2="802.90" stroke="#000" stroke-width="1.11"/>
<text x="1098.40" y="808.70" font-size="15.28" text-anchor="start" fill="#000">20</text>
<line x1="1088.70" y1="777.94" x2="1093.56" y2="777.94" stroke="#000" stroke-width="1.11"/>
<line x1="1088.70" y1="752.97" x2="1093.56" y2="752.97" stroke="#000" stroke-width="1.11"/>
<text x="1098.40" y="758.77" font-size="15.28" text-anchor="start" fill="#000">40</text>
<line x1="1088.70" y1="728.01" x2="1093.56" y2="728.01" stroke="#000" stroke-width="1.11"/>
<line x1="1088.70" y1="703.04" x2="1093.56" y2="703.04" stroke="#000" stroke-width="1.11"/>
<text x="1098.40" y="708.84" font-size="15.28" text-anchor="start" fill="#000">60</text>
<line x1="1088.70" y1="678.08" x2="1093.56" y2="678.08" stroke="#000" stroke-width="1.11"/>
<line x1="1088.70" y1="653.11" x2="1093.56" y2="653.11" stroke="#000" stroke-width="1.11"/>
<text x="1098.40" y="658.91" font-size="15.28" text-anchor="start" fill="#000">80</text>
<line x1="1088.70" y1="628.15" x2="1093.56" y2="628.15" stroke="#000" stroke-width="1.11"/>
<line x1="1088.70" y1="603.19" x2="1093.56" y2="603.19" stroke="#000" stroke-width="1.11"/>
<text x="1098.40" y="608.99" font-size="15.28" text-anchor="start" fill="#000">100</text>
<line x1="1088.70" y1="578.22" x2="1093.56" y2="578.22" stroke="#000" stroke-width="1.11"/>
<line x1="1088.70" y1="553.26" x2="1093.56" y2="553.26" stroke="#000" stroke-width="1.11"/>
<text x="1098.40" y="559.06" font-size="15.28" text-anchor="start" fill="#000">120</text>
<line x1="1088.70" y1="528.29" x2="1093.56" y2="528.29" stroke="#000" stroke-width="1.11"/>
<line x1="1088.70" y1="503.33" x2="1093.56" y2="503.33" stroke="#000" stroke-width="1.11"/>
<text x="1098.40" y="509.13" font-size="15.28" text-anchor="start" fill="#000">140</text>
<line x1="1088.70" y1="478.36" x2="1093.56" y2="478.36" stroke="#000" stroke-width="1.11"/>
<line x1="1088.70" y1="453.40" x2="1093.56" y2="453.40" stroke="#000" stroke-width="1.11"/>
<text x="1098.40" y="459.20" font-size="15.28" text-anchor="start" fill="#000">160</text>
<line x1="91.59" y1="802.90" x2="91.59" y2="805.68" stroke="#000" stroke-width="1.11"/>
<line x1="133.93" y1="802.90" x2="133.93" y2="805.68" stroke="#000" stroke-width="1.11"/>
<line x1="176.26" y1="802.90" x2="176.26" y2="805.68" stroke="#000" stroke-width="1.11"/>
<line x1="218.60" y1="802.90" x2="218.60" y2="807.76" stroke="#000" stroke-width="1.11"/>
<text x="218.60" y="825.90" font-size="15.28" text-anchor="middle" fill="#000">08/05</text>
<line x1="260.94" y1="802.90" x2="260.94" y2="805.68" stroke="#000" stroke-width="1.11"/>
<line x1="303.27" y1="802.90" x2="303.27" y2="805.68" stroke="#000" stroke-width="1.11"/>
<line x1="345.61" y1="802.90" x2="345.61" y2="805.68" stroke="#000" stroke-width="1.11"/>
<line x1="387.95" y1="802.90" x2="387.95" y2="807.76" stroke="#000" stroke-width="1.11"/>
<text x="387.95" y="825.90" font-size="15.28" text-anchor="middle" fill="#000">08/06</text>
<line x1="430.29" y1="802.90" x2="430.29" y2="805.68" stroke="#000" stroke-width="1.11"/>
<line x1="472.62" y1="802.90" x2="472.62" y2="805.68" stroke="#000" stroke-width="1.11"/>
<line x1="514.96" y1="802.90" x2="514.96" y2="805.68" stroke="#000" stroke-width="1.11"/>
<line x1="557.30" y1="802.90" x2="557.30" y2="807.76" stroke="#000" stroke-width="1.11"/>
<text x="557.30" y="825.90" font-size="15.28" text-anchor="middle" fill="#000">08/07</text>
<line x1="599.64" y1="802.90" x2="599.64" y2="805.68" stroke="#000" stroke-width="1.11"/>
<line x1="641.98" y1="802.90" x2="641.98" y2="805.68" stroke="#000" stroke-width="1.11"/>
<line x1="684.31" y1="802.90" x2="684.31" y2="805.68" stroke="#000" stroke-width="1.11"/>
<line x1="726.65" y1="802.90" x2="726.65" y2="807.76" stroke="#000" stroke-width="1.11"/>
<text x="726.65" y="825.90" font-size="15.28" text-anchor="middle" fill="#000">08/08</text>
<line x1="768.99" y1="802.90" x2="768.99" y2="805.68" stroke="#000" stroke-width="1.11"/>
<line x1="811.33" y1="802.90" x2="811.33" y2="805.68" stroke="#000" stroke-width="1.11"/>
<line x1="853.66" y1="802.90" x2="853.66" y2="805.68" stroke="#000" stroke-width="1.11"/>
<line x1="896.00" y1="802.90" x2="896.00" y2="807.76" stroke="#000" stroke-width="1.11"/>
<text x="896.00" y="825.90" font-size="15.28" text-anchor="middle" fill="#000">08/09</text>
<line x1="938.34" y1="802.90" x2="938.34" y2="805.68" stroke="#000" stroke-width="1.11"/>
<line x1="980.67" y1="802.90" x2="980.67" y2="805.68" stroke="#000" stroke-width="1.11"/>
<line x1="1023.01" y1="802.90" x2="1023.01" y2="805.68" stroke="#000" stroke-width="1.11"/>
<line x1="1065.35" y1="802.90" x2="1065.35" y2="807.76" stroke="#000" stroke-width="1.11"/>
<text x="1065.35" y="825.90" font-size="15.28" text-anchor="middle" fill="#000">08/10</text>
<text x="585.00" y="845.60" font-size="15.28" text-anchor="middle" fill="#000">2025</text>
<text x="33.00" y="629.00" font-size="16" text-anchor="middle" fill="#000" transform="rotate(-90 33.00 629.00)">SHAP Value [kts]</text>
<text x="1144.30" y="629.50" font-size="16" text-anchor="middle" fill="#000" transform="rotate(-90 1144.30 629.50)">Working Best Track TC Intensity [kt]</text>
<text x="211.50" y="865.60" font-size="15.28" text-anchor="start" fill="#000">SHAP values:</text>
<line x1="341.00" y1="860.30" x2="374.00" y2="860.30" stroke="#dc143c" stroke-width="2.78"/>
<text x="386.00" y="865.60" font-size="15.28" text-anchor="start" fill="#000">IR</text>
<line x1="429.50" y1="860.30" x2="462.50" y2="860.30" stroke="#40e0f0" stroke-width="2.78"/>
<text x="474.00" y="865.60" font-size="15.28" text-anchor="start" fill="#000">History</text>
<line x1="557.50" y1="860.30" x2="590.50" y2="860.30" stroke="#3cb44b" stroke-width="2.78"/>
<text x="602.00" y="865.60" font-size="15.28" text-anchor="start" fill="#000">Position</text>
<line x1="690.00" y1="860.30" x2="723.00" y2="860.30" stroke="#f032e6" stroke-width="2.78"/>
<text x="735.00" y="865.60" font-size="15.28" text-anchor="start" fill="#000">Environment</text>
<line x1="862.00" y1="860.30" x2="895.00" y2="860.30" stroke="#f58231" stroke-width="2.78"/>
<text x="906.50" y="865.60" font-size="15.28" text-anchor="start" fill="#000">GFS Thermo</text>
<line x1="516.00" y1="882.50" x2="549.00" y2="882.50" stroke="#000" stroke-width="3.47"/>
<text x="560.00" y="887.80" font-size="15.28" text-anchor="start" fill="#000">TC Intensity</text>
<g class="rs"><text x="334.20" y="920.00" font-size="13.2" text-anchor="middle" fill="#222">Shap values for 2025_08E at 20250810 0310UTC</text>
<rect x="68.00" y="1101.30" width="400.20" height="103.80" fill="#f4f4f4" stroke="none" stroke-width="1.11"/>
<rect x="68.00" y="1378.10" width="400.20" height="276.80" fill="#f4f4f4" stroke="none" stroke-width="1.11"/>
<line x1="68.00" y1="945.60" x2="468.20" y2="945.60" stroke="#ececec" stroke-width="0.6" stroke-dasharray="1 2"/>
<line x1="68.00" y1="980.20" x2="468.20" y2="980.20" stroke="#ececec" stroke-width="0.6" stroke-dasharray="1 2"/>
<line x1="68.00" y1="962.90" x2="468.20" y2="962.90" stroke="#e6e6e6" stroke-width="0.8"/>
<line x1="68.00" y1="1014.80" x2="468.20" y2="1014.80" stroke="#ececec" stroke-width="0.6" stroke-dasharray="1 2"/>
<line x1="68.00" y1="997.50" x2="468.20" y2="997.50" stroke="#e6e6e6" stroke-width="0.8"/>
<line x1="68.00" y1="1049.40" x2="468.20" y2="1049.40" stroke="#ececec" stroke-width="0.6" stroke-dasharray="1 2"/>
<line x1="68.00" y1="1032.10" x2="468.20" y2="1032.10" stroke="#e6e6e6" stroke-width="0.8"/>
<line x1="68.00" y1="1084.00" x2="468.20" y2="1084.00" stroke="#ececec" stroke-width="0.6" stroke-dasharray="1 2"/>
<line x1="68.00" y1="1066.70" x2="468.20" y2="1066.70" stroke="#e6e6e6" stroke-width="0.8"/>
<line x1="68.00" y1="1118.60" x2="468.20" y2="1118.60" stroke="#ececec" stroke-width="0.6" stroke-dasharray="1 2"/>
<line x1="68.00" y1="1101.30" x2="468.20" y2="1101.30" stroke="#e6e6e6" stroke-width="0.8"/>
<line x1="68.00" y1="1153.20" x2="468.20" y2="1153.20" stroke="#ececec" stroke-width="0.6" stroke-dasharray="1 2"/>
<line x1="68.00" y1="1135.90" x2="468.20" y2="1135.90" stroke="#e6e6e6" stroke-width="0.8"/>
<line x1="68.00" y1="1187.80" x2="468.20" y2="1187.80" stroke="#ececec" stroke-width="0.6" stroke-dasharray="1 2"/>
<line x1="68.00" y1="1170.50" x2="468.20" y2="1170.50" stroke="#e6e6e6" stroke-width="0.8"/>
<line x1="68.00" y1="1222.40" x2="468.20" y2="1222.40" stroke="#ececec" stroke-width="0.6" stroke-dasharray="1 2"/>
<line x1="68.00" y1="1205.10" x2="468.20" y2="1205.10" stroke="#e6e6e6" stroke-width="0.8"/>
<line x1="68.00" y1="1257.00" x2="468.20" y2="1257.00" stroke="#ececec" stroke-width="0.6" stroke-dasharray="1 2"/>
<line x1="68.00" y1="1239.70" x2="468.20" y2="1239.70" stroke="#e6e6e6" stroke-width="0.8"/>
<line x1="68.00" y1="1291.60" x2="468.20" y2="1291.60" stroke="#ececec" stroke-width="0.6" stroke-dasharray="1 2"/>
<line x1="68.00" y1="1274.30" x2="468.20" y2="1274.30" stroke="#e6e6e6" stroke-width="0.8"/>
<line x1="68.00" y1="1326.20" x2="468.20" y2="1326.20" stroke="#ececec" stroke-width="0.6" stroke-dasharray="1 2"/>
<line x1="68.00" y1="1308.90" x2="468.20" y2="1308.90" stroke="#e6e6e6" stroke-width="0.8"/>
<line x1="68.00" y1="1360.80" x2="468.20" y2="1360.80" stroke="#ececec" stroke-width="0.6" stroke-dasharray="1 2"/>
<line x1="68.00" y1="1343.50" x2="468.20" y2="1343.50" stroke="#e6e6e6" stroke-width="0.8"/>
<line x1="68.00" y1="1395.40" x2="468.20" y2="1395.40" stroke="#ececec" stroke-width="0.6" stroke-dasharray="1 2"/>
<line x1="68.00" y1="1378.10" x2="468.20" y2="1378.10" stroke="#e6e6e6" stroke-width="0.8"/>
<line x1="68.00" y1="1430.00" x2="468.20" y2="1430.00" stroke="#ececec" stroke-width="0.6" stroke-dasharray="1 2"/>
<line x1="68.00" y1="1412.70" x2="468.20" y2="1412.70" stroke="#e6e6e6" stroke-width="0.8"/>
<line x1="68.00" y1="1464.60" x2="468.20" y2="1464.60" stroke="#ececec" stroke-width="0.6" stroke-dasharray="1 2"/>
<line x1="68.00" y1="1447.30" x2="468.20" y2="1447.30" stroke="#e6e6e6" stroke-width="0.8"/>
<line x1="68.00" y1="1499.20" x2="468.20" y2="1499.20" stroke="#ececec" stroke-width="0.6" stroke-dasharray="1 2"/>
<line x1="68.00" y1="1481.90" x2="468.20" y2="1481.90" stroke="#e6e6e6" stroke-width="0.8"/>
<line x1="68.00" y1="1533.80" x2="468.20" y2="1533.80" stroke="#ececec" stroke-width="0.6" stroke-dasharray="1 2"/>
<line x1="68.00" y1="1516.50" x2="468.20" y2="1516.50" stroke="#e6e6e6" stroke-width="0.8"/>
<line x1="68.00" y1="1568.40" x2="468.20" y2="1568.40" stroke="#ececec" stroke-width="0.6" stroke-dasharray="1 2"/>
<line x1="68.00" y1="1551.10" x2="468.20" y2="1551.10" stroke="#e6e6e6" stroke-width="0.8"/>
<line x1="68.00" y1="1603.00" x2="468.20" y2="1603.00" stroke="#ececec" stroke-width="0.6" stroke-dasharray="1 2"/>
<line x1="68.00" y1="1585.70" x2="468.20" y2="1585.70" stroke="#e6e6e6" stroke-width="0.8"/>
<line x1="68.00" y1="1637.60" x2="468.20" y2="1637.60" stroke="#ececec" stroke-width="0.6" stroke-dasharray="1 2"/>
<line x1="68.00" y1="1620.30" x2="468.20" y2="1620.30" stroke="#e6e6e6" stroke-width="0.8"/>
<line x1="68.00" y1="1672.20" x2="468.20" y2="1672.20" stroke="#ececec" stroke-width="0.6" stroke-dasharray="1 2"/>
<line x1="68.00" y1="1654.90" x2="468.20" y2="1654.90" stroke="#e6e6e6" stroke-width="0.8"/>
<line x1="68.00" y1="1706.80" x2="468.20" y2="1706.80" stroke="#ececec" stroke-width="0.6" stroke-dasharray="1 2"/>
<line x1="68.00" y1="1689.50" x2="468.20" y2="1689.50" stroke="#e6e6e6" stroke-width="0.8"/>
<line x1="68.00" y1="1741.40" x2="468.20" y2="1741.40" stroke="#ececec" stroke-width="0.6" stroke-dasharray="1 2"/>
<line x1="68.00" y1="1724.10" x2="468.20" y2="1724.10" stroke="#e6e6e6" stroke-width="0.8"/>
<line x1="68.00" y1="1776.00" x2="468.20" y2="1776.00" stroke="#ececec" stroke-width="0.6" stroke-dasharray="1 2"/>
<line x1="68.00" y1="1758.70" x2="468.20" y2="1758.70" stroke="#e6e6e6" stroke-width="0.8"/>
<line x1="68.00" y1="1810.60" x2="468.20" y2="1810.60" stroke="#ececec" stroke-width="0.6" stroke-dasharray="1 2"/>
<line x1="68.00" y1="1793.30" x2="468.20" y2="1793.30" stroke="#e6e6e6" stroke-width="0.8"/>
<line x1="68.00" y1="1845.20" x2="468.20" y2="1845.20" stroke="#ececec" stroke-width="0.6" stroke-dasharray="1 2"/>
<line x1="68.00" y1="1827.90" x2="468.20" y2="1827.90" stroke="#e6e6e6" stroke-width="0.8"/>
<line x1="68.00" y1="1879.80" x2="468.20" y2="1879.80" stroke="#ececec" stroke-width="0.6" stroke-dasharray="1 2"/>
<line x1="68.00" y1="1862.50" x2="468.20" y2="1862.50" stroke="#e6e6e6" stroke-width="0.8"/>
<line x1="68.00" y1="1914.40" x2="468.20" y2="1914.40" stroke="#ececec" stroke-width="0.6" stroke-dasharray="1 2"/>
<line x1="68.00" y1="1897.10" x2="468.20" y2="1897.10" stroke="#e6e6e6" stroke-width="0.8"/>
<line x1="68.00" y1="1949.00" x2="468.20" y2="1949.00" stroke="#ececec" stroke-width="0.6" stroke-dasharray="1 2"/>
<line x1="68.00" y1="1931.70" x2="468.20" y2="1931.70" stroke="#e6e6e6" stroke-width="0.8"/>
<line x1="68.00" y1="1983.60" x2="468.20" y2="1983.60" stroke="#ececec" stroke-width="0.6" stroke-dasharray="1 2"/>
<line x1="68.00" y1="1966.30" x2="468.20" y2="1966.30" stroke="#e6e6e6" stroke-width="0.8"/>
<line x1="68.00" y1="2018.20" x2="468.20" y2="2018.20" stroke="#ececec" stroke-width="0.6" stroke-dasharray="1 2"/>
<line x1="68.00" y1="2000.90" x2="468.20" y2="2000.90" stroke="#e6e6e6" stroke-width="0.8"/>
<line x1="407.00" y1="928.30" x2="407.00" y2="2035.50" stroke="#8c8c8c" stroke-width="1.0"/>
<text x="464.30" y="945.50" font-size="9.0" text-anchor="end" fill="#222">Satellite SHAP=-24.5kts</text>
<line x1="68.00" y1="1101.30" x2="468.20" y2="1101.30" stroke="#111" stroke-width="1.6"/>
<text x="464.30" y="1118.50" font-size="9.0" text-anchor="end" fill="#222">History SHAP=1.3kts</text>
<line x1="68.00" y1="1205.10" x2="468.20" y2="1205.10" stroke="#111" stroke-width="1.6"/>
<text x="464.30" y="1222.30" font-size="9.0" text-anchor="end" fill="#222">Location SHAP=2.0kts</text>
<line x1="68.00" y1="1378.10" x2="468.20" y2="1378.10" stroke="#111" stroke-width="1.6"/>
<text x="464.30" y="1395.30" font-size="9.0" text-anchor="end" fill="#222">Environmental SHAP=0.2kts</text>
<line x1="68.00" y1="1654.90" x2="468.20" y2="1654.90" stroke="#111" stroke-width="1.6"/>
<text x="464.30" y="1672.10" font-size="9.0" text-anchor="end" fill="#222">TC Dynamics SHAP=0.9kts</text>
<circle cx="275.60" cy="945.60" r="3.55" fill="#008bfb"/>
<text x="62.00" y="948.50" font-size="8.3" text-anchor="end" fill="#222">0h_old_IR</text>
<line x1="65.60" y1="945.60" x2="68.00" y2="945.60" stroke="#333" stroke-width="0.7"/>
<line x1="468.20" y1="945.60" x2="470.60" y2="945.60" stroke="#333" stroke-width="0.7"/>
<text x="472.80" y="944.30" font-size="8.3" text-anchor="start" fill="#222">0h old IR data</text>
<text x="472.80" y="953.30" font-size="8.3" text-anchor="start" fill="#222">(128x128 grid points)</text>
<circle cx="386.19" cy="980.20" r="3.55" fill="#0975f2"/>
<text x="62.00" y="983.10" font-size="8.3" text-anchor="end" fill="#222">3h_old_IR</text>
<line x1="65.60" y1="980.20" x2="68.00" y2="980.20" stroke="#333" stroke-width="0.7"/>
<line x1="468.20" y1="980.20" x2="470.60" y2="980.20" stroke="#333" stroke-width="0.7"/>
<text x="472.80" y="978.90" font-size="8.3" text-anchor="start" fill="#222">3h old IR data</text>
<text x="472.80" y="987.90" font-size="8.3" text-anchor="start" fill="#222">(128x128 grid points)</text>
<circle cx="311.54" cy="1014.80" r="3.55" fill="#2f67e8"/>
<text x="62.00" y="1017.70" font-size="8.3" text-anchor="end" fill="#222">6h_old_IR</text>
<line x1="65.60" y1="1014.80" x2="68.00" y2="1014.80" stroke="#333" stroke-width="0.7"/>
<line x1="468.20" y1="1014.80" x2="470.60" y2="1014.80" stroke="#333" stroke-width="0.7"/>
<text x="472.80" y="1013.50" font-size="8.3" text-anchor="start" fill="#222">6h old IR data</text>
<text x="472.80" y="1022.50" font-size="8.3" text-anchor="start" fill="#222">(128x128 grid points)</text>
<circle cx="409.46" cy="1049.40" r="3.55" fill="#724bd1"/>
<text x="62.00" y="1052.30" font-size="8.3" text-anchor="end" fill="#222">9h_old_IR</text>
<line x1="65.60" y1="1049.40" x2="68.00" y2="1049.40" stroke="#333" stroke-width="0.7"/>
<line x1="468.20" y1="1049.40" x2="470.60" y2="1049.40" stroke="#333" stroke-width="0.7"/>
<text x="472.80" y="1048.10" font-size="8.3" text-anchor="start" fill="#222">9h old IR data</text>
<text x="472.80" y="1057.10" font-size="8.3" text-anchor="start" fill="#222">(128x128 grid points)</text>
<circle cx="86.21" cy="1084.00" r="3.55" fill="#008bfb"/>
<text x="62.00" y="1086.90" font-size="8.3" text-anchor="end" fill="#222">12h_old_IR</text>
<line x1="65.60" y1="1084.00" x2="68.00" y2="1084.00" stroke="#333" stroke-width="0.7"/>
<line x1="468.20" y1="1084.00" x2="470.60" y2="1084.00" stroke="#333" stroke-width="0.7"/>
<text x="472.80" y="1082.70" font-size="8.3" text-anchor="start" fill="#222">12h old IR data</text>
<text x="472.80" y="1091.70" font-size="8.3" text-anchor="start" fill="#222">(128x128 grid points)</text>
<circle cx="401.40" cy="1118.60" r="3.55" fill="#008bfb"/>
<text x="62.00" y="1121.50" font-size="8.3" text-anchor="end" fill="#222">DELV</text>
<line x1="65.60" y1="1118.60" x2="68.00" y2="1118.60" stroke="#333" stroke-width="0.7"/>
<line x1="468.20" y1="1118.60" x2="470.60" y2="1118.60" stroke="#333" stroke-width="0.7"/>
<text x="472.80" y="1121.50" font-size="8.3" text-anchor="start" fill="#222">-12h to 0h Intensity change</text>
<circle cx="442.18" cy="1153.20" r="3.55" fill="#5857da"/>
<text x="62.00" y="1156.10" font-size="8.3" text-anchor="end" fill="#222">HIST</text>
<line x1="65.60" y1="1153.20" x2="68.00" y2="1153.20" stroke="#333" stroke-width="0.7"/>
<line x1="468.20" y1="1153.20" x2="470.60" y2="1153.20" stroke="#333" stroke-width="0.7"/>
<text x="472.80" y="1151.90" font-size="8.3" text-anchor="start" fill="#222">The # of 6h periods VMAX</text>
<text x="472.80" y="1160.90" font-size="8.3" text-anchor="start" fill="#222">has been above 20kt</text>
<circle cx="406.70" cy="1187.80" r="3.55" fill="#008bfb"/>
<text x="62.00" y="1190.70" font-size="8.3" text-anchor="end" fill="#222">SPD</text>
<line x1="65.60" y1="1187.80" x2="68.00" y2="1187.80" stroke="#333" stroke-width="0.7"/>
<line x1="468.20" y1="1187.80" x2="470.60" y2="1187.80" stroke="#333" stroke-width="0.7"/>
<text x="472.80" y="1190.70" font-size="8.3" text-anchor="start" fill="#222">TC Translation Speed</text>
<circle cx="417.76" cy="1222.40" r="3.55" fill="#008bfb"/>
<text x="62.00" y="1225.30" font-size="8.3" text-anchor="end" fill="#222">sin_lat</text>
<line x1="65.60" y1="1222.40" x2="68.00" y2="1222.40" stroke="#333" stroke-width="0.7"/>
<line x1="468.20" y1="1222.40" x2="470.60" y2="1222.40" stroke="#333" stroke-width="0.7"/>
<text x="472.80" y="1225.30" font-size="8.3" text-anchor="start" fill="#222">Sine of Latitude</text>
<circle cx="394.49" cy="1257.00" r="3.55" fill="#0088fa"/>
<text x="62.00" y="1259.90" font-size="8.3" text-anchor="end" fill="#222">cos_lon</text>
<line x1="65.60" y1="1257.00" x2="68.00" y2="1257.00" stroke="#333" stroke-width="0.7"/>
<line x1="468.20" y1="1257.00" x2="470.60" y2="1257.00" stroke="#333" stroke-width="0.7"/>
<text x="472.80" y="1259.90" font-size="8.3" text-anchor="start" fill="#222">Cosine of Longitude</text>
<circle cx="449.78" cy="1291.60" r="3.55" fill="#ee0068"/>
<text x="62.00" y="1294.50" font-size="8.3" text-anchor="end" fill="#222">sin_lon</text>
<line x1="65.60" y1="1291.60" x2="68.00" y2="1291.60" stroke="#333" stroke-width="0.7"/>
<line x1="468.20" y1="1291.60" x2="470.60" y2="1291.60" stroke="#333" stroke-width="0.7"/>
<text x="472.80" y="1294.50" font-size="8.3" text-anchor="start" fill="#222">Sine of Longitude</text>
<circle cx="407.85" cy="1326.20" r="3.55" fill="#ee0068"/>
<text x="62.00" y="1329.10" font-size="8.3" text-anchor="end" fill="#222">DTL</text>
<line x1="65.60" y1="1326.20" x2="68.00" y2="1326.20" stroke="#333" stroke-width="0.7"/>
<line x1="468.20" y1="1326.20" x2="470.60" y2="1326.20" stroke="#333" stroke-width="0.7"/>
<text x="472.80" y="1329.10" font-size="8.3" text-anchor="start" fill="#222">Distance to Land</text>
<circle cx="409.00" cy="1360.80" r="3.55" fill="#aa1eaa"/>
<text x="62.00" y="1363.70" font-size="8.3" text-anchor="end" fill="#222">sin_local_time</text>
<line x1="65.60" y1="1360.80" x2="68.00" y2="1360.80" stroke="#333" stroke-width="0.7"/>
<line x1="468.20" y1="1360.80" x2="470.60" y2="1360.80" stroke="#333" stroke-width="0.7"/>
<text x="472.80" y="1359.50" font-size="8.3" text-anchor="start" fill="#222">Sine of Time of Day</text>
<text x="472.80" y="1368.50" font-size="8.3" text-anchor="start" fill="#222">(Local Solar Time)</text>
<circle cx="406.70" cy="1395.40" r="3.55" fill="#008bfb"/>
<text x="62.00" y="1398.30" font-size="8.3" text-anchor="end" fill="#222">SHRD</text>
<line x1="65.60" y1="1395.40" x2="68.00" y2="1395.40" stroke="#333" stroke-width="0.7"/>
<line x1="468.20" y1="1395.40" x2="470.60" y2="1395.40" stroke="#333" stroke-width="0.7"/>
<text x="472.80" y="1398.30" font-size="8.3" text-anchor="start" fill="#222">850-200hPa shear (200-800 km)</text>
<circle cx="406.01" cy="1430.00" r="3.55" fill="#af19a6"/>
<text x="62.00" y="1432.90" font-size="8.3" text-anchor="end" fill="#222">SHDC</text>
<line x1="65.60" y1="1430.00" x2="68.00" y2="1430.00" stroke="#333" stroke-width="0.7"/>
<line x1="468.20" y1="1430.00" x2="470.60" y2="1430.00" stroke="#333" stroke-width="0.7"/>
<text x="472.80" y="1428.70" font-size="8.3" text-anchor="start" fill="#222">850-200hPa shear with</text>
<text x="472.80" y="1437.70" font-size="8.3" text-anchor="start" fill="#222">vortex removed (0-500 km)</text>
<circle cx="406.70" cy="1464.60" r="3.55" fill="#008bfb"/>
<text x="62.00" y="1467.50" font-size="8.3" text-anchor="end" fill="#222">SHRS</text>
<line x1="65.60" y1="1464.60" x2="68.00" y2="1464.60" stroke="#333" stroke-width="0.7"/>
<line x1="468.20" y1="1464.60" x2="470.60" y2="1464.60" stroke="#333" stroke-width="0.7"/>
<text x="472.80" y="1467.50" font-size="8.3" text-anchor="start" fill="#222">850-500hPa shear (200-800 km)</text>
<circle cx="406.70" cy="1499.20" r="3.55" fill="#d30386"/>
<text x="62.00" y="1502.10" font-size="8.3" text-anchor="end" fill="#222">MPI</text>
<line x1="65.60" y1="1499.20" x2="68.00" y2="1499.20" stroke="#333" stroke-width="0.7"/>
<line x1="468.20" y1="1499.20" x2="470.60" y2="1499.20" stroke="#333" stroke-width="0.7"/>
<text x="472.80" y="1502.10" font-size="8.3" text-anchor="start" fill="#222">Maximum potential intensity</text>
<circle cx="368.22" cy="1533.80" r="3.55" fill="#d30386"/>
<text x="62.00" y="1536.70" font-size="8.3" text-anchor="end" fill="#222">RSST</text>
<line x1="65.60" y1="1533.80" x2="68.00" y2="1533.80" stroke="#333" stroke-width="0.7"/>
<line x1="468.20" y1="1533.80" x2="470.60" y2="1533.80" stroke="#333" stroke-width="0.7"/>
<text x="472.80" y="1536.70" font-size="8.3" text-anchor="start" fill="#222">Reynolds SST</text>
<circle cx="449.78" cy="1568.40" r="3.55" fill="#008bfb"/>
<text x="62.00" y="1571.30" font-size="8.3" text-anchor="end" fill="#222">COHC</text>
<line x1="65.60" y1="1568.40" x2="68.00" y2="1568.40" stroke="#333" stroke-width="0.7"/>
<line x1="468.20" y1="1568.40" x2="470.60" y2="1568.40" stroke="#333" stroke-width="0.7"/>
<text x="472.80" y="1571.30" font-size="8.3" text-anchor="start" fill="#222">Climatological Ocean Heat Content</text>
<circle cx="388.04" cy="1603.00" r="3.55" fill="#c80491"/>
<text x="62.00" y="1605.90" font-size="8.3" text-anchor="end" fill="#222">CD26</text>
<line x1="65.60" y1="1603.00" x2="68.00" y2="1603.00" stroke="#333" stroke-width="0.7"/>
<line x1="468.20" y1="1603.00" x2="470.60" y2="1603.00" stroke="#333" stroke-width="0.7"/>
<text x="472.80" y="1601.70" font-size="8.3" text-anchor="start" fill="#222">Climatological depth of</text>
<text x="472.80" y="1610.70" font-size="8.3" text-anchor="start" fill="#222">26° C isotherm</text>
<circle cx="425.82" cy="1637.60" r="3.55" fill="#008bfb"/>
<text x="62.00" y="1640.50" font-size="8.3" text-anchor="end" fill="#222">CD20</text>
<line x1="65.60" y1="1637.60" x2="68.00" y2="1637.60" stroke="#333" stroke-width="0.7"/>
<line x1="468.20" y1="1637.60" x2="470.60" y2="1637.60" stroke="#333" stroke-width="0.7"/>
<text x="472.80" y="1636.30" font-size="8.3" text-anchor="start" fill="#222">Climatological depth of</text>
<text x="472.80" y="1645.30" font-size="8.3" text-anchor="start" fill="#222">20° C isotherm</text>
<circle cx="398.41" cy="1672.20" r="3.55" fill="#eb006c"/>
<text x="62.00" y="1675.10" font-size="8.3" text-anchor="end" fill="#222">DIVC</text>
<line x1="65.60" y1="1672.20" x2="68.00" y2="1672.20" stroke="#333" stroke-width="0.7"/>
<line x1="468.20" y1="1672.20" x2="470.60" y2="1672.20" stroke="#333" stroke-width="0.7"/>
<text x="472.80" y="1670.90" font-size="8.3" text-anchor="start" fill="#222">200hPa divergence centered at</text>
<text x="472.80" y="1679.90" font-size="8.3" text-anchor="start" fill="#222">850hPa vortex location</text>
<circle cx="409.00" cy="1706.80" r="3.55" fill="#008bfb"/>
<text x="62.00" y="1709.70" font-size="8.3" text-anchor="end" fill="#222">V300</text>
<line x1="65.60" y1="1706.80" x2="68.00" y2="1706.80" stroke="#333" stroke-width="0.7"/>
<line x1="468.20" y1="1706.80" x2="470.60" y2="1706.80" stroke="#333" stroke-width="0.7"/>
<text x="472.80" y="1705.50" font-size="8.3" text-anchor="start" fill="#222">300hPa tangential wind azimuthally</text>
<text x="472.80" y="1714.50" font-size="8.3" text-anchor="start" fill="#222">averaged at 500 km</text>
<circle cx="402.55" cy="1741.40" r="3.55" fill="#4a5de0"/>
<text x="62.00" y="1744.30" font-size="8.3" text-anchor="end" fill="#222">V500</text>
<line x1="65.60" y1="1741.40" x2="68.00" y2="1741.40" stroke="#333" stroke-width="0.7"/>
<line x1="468.20" y1="1741.40" x2="470.60" y2="1741.40" stroke="#333" stroke-width="0.7"/>
<text x="472.80" y="1740.10" font-size="8.3" text-anchor="start" fill="#222">500hPa tangential wind azimuthally</text>
<text x="472.80" y="1749.10" font-size="8.3" text-anchor="start" fill="#222">averaged at 500 km</text>
<circle cx="397.48" cy="1776.00" r="3.55" fill="#843fc7"/>
<text x="62.00" y="1778.90" font-size="8.3" text-anchor="end" fill="#222">V850</text>
<line x1="65.60" y1="1776.00" x2="68.00" y2="1776.00" stroke="#333" stroke-width="0.7"/>
<line x1="468.20" y1="1776.00" x2="470.60" y2="1776.00" stroke="#333" stroke-width="0.7"/>
<text x="472.80" y="1774.70" font-size="8.3" text-anchor="start" fill="#222">850hPa tangential wind azimuthally</text>
<text x="472.80" y="1783.70" font-size="8.3" text-anchor="start" fill="#222">averaged at 500 km</text>
<circle cx="413.15" cy="1810.60" r="3.55" fill="#008bfb"/>
<text x="62.00" y="1813.50" font-size="8.3" text-anchor="end" fill="#222">Z850</text>
<line x1="65.60" y1="1810.60" x2="68.00" y2="1810.60" stroke="#333" stroke-width="0.7"/>
<line x1="468.20" y1="1810.60" x2="470.60" y2="1810.60" stroke="#333" stroke-width="0.7"/>
<text x="472.80" y="1813.50" font-size="8.3" text-anchor="start" fill="#222">850hPa vorticity (0-1000 km)</text>
<circle cx="407.85" cy="1845.20" r="3.55" fill="#008bfb"/>
<text x="62.00" y="1848.10" font-size="8.3" text-anchor="end" fill="#222">U200</text>
<line x1="65.60" y1="1845.20" x2="68.00" y2="1845.20" stroke="#333" stroke-width="0.7"/>
<line x1="468.20" y1="1845.20" x2="470.60" y2="1845.20" stroke="#333" stroke-width="0.7"/>
<text x="472.80" y="1848.10" font-size="8.3" text-anchor="start" fill="#222">200hPa zonal wind (200-800 km)</text>
<circle cx="402.55" cy="1879.80" r="3.55" fill="#008bfb"/>
<text x="62.00" y="1882.70" font-size="8.3" text-anchor="end" fill="#222">U20C</text>
<line x1="65.60" y1="1879.80" x2="68.00" y2="1879.80" stroke="#333" stroke-width="0.7"/>
<line x1="468.20" y1="1879.80" x2="470.60" y2="1879.80" stroke="#333" stroke-width="0.7"/>
<text x="472.80" y="1882.70" font-size="8.3" text-anchor="start" fill="#222">200hPa zonal wind (0-500 km)</text>
<circle cx="409.70" cy="1914.40" r="3.55" fill="#aa1eaa"/>
<text x="62.00" y="1917.30" font-size="8.3" text-anchor="end" fill="#222">V20C</text>
<line x1="65.60" y1="1914.40" x2="68.00" y2="1914.40" stroke="#333" stroke-width="0.7"/>
<line x1="468.20" y1="1914.40" x2="470.60" y2="1914.40" stroke="#333" stroke-width="0.7"/>
<text x="472.80" y="1917.30" font-size="8.3" text-anchor="start" fill="#222">200hPa meridional wind (0-500 km)</text>
<circle cx="447.94" cy="1949.00" r="3.55" fill="#008bfb"/>
<text x="62.00" y="1951.90" font-size="8.3" text-anchor="end" fill="#222">RHMD</text>
<line x1="65.60" y1="1949.00" x2="68.00" y2="1949.00" stroke="#333" stroke-width="0.7"/>
<line x1="468.20" y1="1949.00" x2="470.60" y2="1949.00" stroke="#333" stroke-width="0.7"/>
<text x="472.80" y="1947.70" font-size="8.3" text-anchor="start" fill="#222">700-500hPa relative humidity</text>
<text x="472.80" y="1956.70" font-size="8.3" text-anchor="start" fill="#222">(200-800 km)</text>
<circle cx="411.31" cy="1983.60" r="3.55" fill="#008bfb"/>
<text x="62.00" y="1986.50" font-size="8.3" text-anchor="end" fill="#222">EPSS</text>
<line x1="65.60" y1="1983.60" x2="68.00" y2="1983.60" stroke="#333" stroke-width="0.7"/>
<line x1="468.20" y1="1983.60" x2="470.60" y2="1983.60" stroke="#333" stroke-width="0.7"/>
<text x="473.2" y="1982.20" font-size="8.3" fill="#222">Avg. Δ <tspan font-style="italic">θ</tspan><tspan font-style="italic" font-size="5.81" dy="1.6">e</tspan><tspan dy="-1.6"> </tspan>(only +) btwn parcel lifted from</text><text x="473.2" y="1992.70" font-size="8.3" fill="#222">sfc. and saturated env. <tspan font-style="italic">θ</tspan><tspan font-style="italic" font-size="5.81" dy="1.6">e</tspan><tspan dy="-1.6"> </tspan>(200-800 km)</text>
<circle cx="393.80" cy="2018.20" r="3.55" fill="#008bfb"/>
<text x="62.00" y="2021.10" font-size="8.3" text-anchor="end" fill="#222">ENSS</text>
<line x1="65.60" y1="2018.20" x2="68.00" y2="2018.20" stroke="#333" stroke-width="0.7"/>
<line x1="468.20" y1="2018.20" x2="470.60" y2="2018.20" stroke="#333" stroke-width="0.7"/>
<text x="473.2" y="2016.80" font-size="8.3" fill="#222">Avg. Δ <tspan font-style="italic">θ</tspan><tspan font-style="italic" font-size="5.81" dy="1.6">e</tspan><tspan dy="-1.6"> </tspan>(only -) btwn parcel lifted from</text><text x="473.2" y="2027.30" font-size="8.3" fill="#222">sfc. and saturated env. <tspan font-style="italic">θ</tspan><tspan font-style="italic" font-size="5.81" dy="1.6">e</tspan><tspan dy="-1.6"> </tspan>(200-800 km)</text>
<rect x="68.00" y="928.30" width="400.20" height="1107.20" fill="none" stroke="#444" stroke-width="0.9"/>
<line x1="84.14" y1="2035.50" x2="84.14" y2="2037.90" stroke="#333" stroke-width="0.7"/>
<text x="84.14" y="2046.70" font-size="8.3" text-anchor="middle" fill="#222">−14</text>
<line x1="130.22" y1="2035.50" x2="130.22" y2="2037.90" stroke="#333" stroke-width="0.7"/>
<text x="130.22" y="2046.70" font-size="8.3" text-anchor="middle" fill="#222">−12</text>
<line x1="176.30" y1="2035.50" x2="176.30" y2="2037.90" stroke="#333" stroke-width="0.7"/>
<text x="176.30" y="2046.70" font-size="8.3" text-anchor="middle" fill="#222">−10</text>
<line x1="222.38" y1="2035.50" x2="222.38" y2="2037.90" stroke="#333" stroke-width="0.7"/>
<text x="222.38" y="2046.70" font-size="8.3" text-anchor="middle" fill="#222">−8</text>
<line x1="268.46" y1="2035.50" x2="268.46" y2="2037.90" stroke="#333" stroke-width="0.7"/>
<text x="268.46" y="2046.70" font-size="8.3" text-anchor="middle" fill="#222">−6</text>
<line x1="314.54" y1="2035.50" x2="314.54" y2="2037.90" stroke="#333" stroke-width="0.7"/>
<text x="314.54" y="2046.70" font-size="8.3" text-anchor="middle" fill="#222">−4</text>
<line x1="360.62" y1="2035.50" x2="360.62" y2="2037.90" stroke="#333" stroke-width="0.7"/>
<text x="360.62" y="2046.70" font-size="8.3" text-anchor="middle" fill="#222">−2</text>
<line x1="406.70" y1="2035.50" x2="406.70" y2="2037.90" stroke="#333" stroke-width="0.7"/>
<text x="406.70" y="2046.70" font-size="8.3" text-anchor="middle" fill="#222">0</text>
<line x1="452.78" y1="2035.50" x2="452.78" y2="2037.90" stroke="#333" stroke-width="0.7"/>
<text x="452.78" y="2046.70" font-size="8.3" text-anchor="middle" fill="#222">2</text>
<text x="267.40" y="2059.10" font-size="11.05" text-anchor="middle" fill="#222">SHAP Value [kts]</text>
<linearGradient id="shapcb" x1="0" x2="1" y1="0" y2="0"><stop offset="0.00" stop-color="#008bfb"/><stop offset="0.20" stop-color="#0078f5"/><stop offset="0.35" stop-color="#465fe1"/><stop offset="0.50" stop-color="#7d46cd"/><stop offset="0.62" stop-color="#aa1eaa"/><stop offset="0.72" stop-color="#c30596"/><stop offset="0.85" stop-color="#e60073"/><stop offset="1.00" stop-color="#ff0051"/></linearGradient>
<rect x="29.10" y="2083.60" width="588.00" height="24.70" fill="url(#shapcb)" stroke="#222" stroke-width="0.7"/>
<text x="617.30" y="2078.60" font-size="9.8" text-anchor="end" fill="#222">Feature Value</text>
<text x="21.00" y="2119.90" font-size="8.3" text-anchor="start" fill="#222">Low</text>
<text x="626.80" y="2119.90" font-size="8.3" text-anchor="end" fill="#222">High</text>
<text x="29.1" y="2135.4" font-size="9.04" fill="#222">SHAP Value: Amount each feature [listed on Y-axis] contributes to the predicted intensity above or below <tspan text-decoration="underline">60 kts</tspan></text>
<text x="29.10" y="2150.20" font-size="9.04" text-anchor="start" fill="#222">Feature Value: The value of the feature [listed on Y-axis] for the given TC compared to the training dataset</text></g>
<g class="rs"><text x="918.00" y="915.40" font-size="11.75" text-anchor="middle" fill="#222">Comparison of IR SHAP Values for 2025_08E at 20250810 0310UTC</text>
<g clip-path="url(#cp0)"><g filter="url(#btmap)"><use href="#storm0" transform="translate(700,920) scale(0.20548)"/></g></g>
<rect x="717.90" y="938.20" width="200.40" height="199.60" fill="none" stroke="#444" stroke-width="0.9"/>
<clipPath id="scp0"><rect x="955.6" y="938.2" width="200.10000000000002" height="199.6"/></clipPath><g clip-path="url(#scp0)"><g filter="url(#shp0)"><rect x="950.6" y="933.2" width="210.10000000000002" height="209.6" fill="url(#env0)"/></g></g><g filter="url(#spotblur)"><ellipse cx="1052.2" cy="1037.5" rx="3.9" ry="2.3" fill="#e00000" fill-opacity="1"/><ellipse cx="1051.7" cy="1037.1" rx="1.8" ry="1.2" fill="#900000" fill-opacity="1"/><ellipse cx="1053.2" cy="1047.9" rx="10.7" ry="5.5" fill="#3030ff" fill-opacity="0.35"/><ellipse cx="1056.7" cy="996.1" rx="1.4" ry="4.9" fill="#4040ff" fill-opacity="0.5"/><ellipse cx="1057.5" cy="1018.6" rx="2.0" ry="5.9" fill="#4040ff" fill-opacity="0.4"/><ellipse cx="1043.5" cy="1065.4" rx="2.0" ry="2.7" fill="#2020ff" fill-opacity="0.6"/><ellipse cx="1094.2" cy="1017.6" rx="3.5" ry="1.4" fill="#3030ff" fill-opacity="0.5"/><ellipse cx="1104.9" cy="1044.0" rx="3.1" ry="1.4" fill="#3030ff" fill-opacity="0.4"/><ellipse cx="1037.6" cy="1043.0" rx="2.7" ry="4.3" fill="#ff3030" fill-opacity="0.45"/><ellipse cx="1025.9" cy="1017.6" rx="5.9" ry="2.0" fill="#ff4040" fill-opacity="0.3"/><ellipse cx="996.6" cy="1038.1" rx="3.9" ry="2.0" fill="#ff4040" fill-opacity="0.3"/><ellipse cx="1014.2" cy="1047.9" rx="4.9" ry="1.6" fill="#3030ff" fill-opacity="0.35"/><ellipse cx="1049.3" cy="1060.5" rx="2.7" ry="2.0" fill="#ff4040" fill-opacity="0.4"/><ellipse cx="1045.4" cy="1080.1" rx="1.2" ry="5.9" fill="#3030ff" fill-opacity="0.3"/></g>
<rect x="955.60" y="938.20" width="200.10" height="199.60" fill="none" stroke="#444" stroke-width="0.9"/>
<text x="818.00" y="933.60" font-size="11" text-anchor="middle" fill="#222">0h old IR Data</text>
<text x="1055.60" y="933.60" font-size="11" text-anchor="middle" fill="#222">SHAP Value=-5.69 kts</text>
<line x1="714.70" y1="962.50" x2="717.90" y2="962.50" stroke="#333" stroke-width="0.8"/>
<line x1="952.40" y1="962.50" x2="955.60" y2="962.50" stroke="#333" stroke-width="0.8"/>
<text x="711.40" y="966.00" font-size="9.3" text-anchor="end" fill="#222">25</text>
<line x1="714.70" y1="993.90" x2="717.90" y2="993.90" stroke="#333" stroke-width="0.8"/>
<line x1="952.40" y1="993.90" x2="955.60" y2="993.90" stroke="#333" stroke-width="0.8"/>
<text x="711.40" y="997.40" font-size="9.3" text-anchor="end" fill="#222">24</text>
<line x1="714.70" y1="1025.30" x2="717.90" y2="1025.30" stroke="#333" stroke-width="0.8"/>
<line x1="952.40" y1="1025.30" x2="955.60" y2="1025.30" stroke="#333" stroke-width="0.8"/>
<text x="711.40" y="1028.80" font-size="9.3" text-anchor="end" fill="#222">23</text>
<line x1="714.70" y1="1056.70" x2="717.90" y2="1056.70" stroke="#333" stroke-width="0.8"/>
<line x1="952.40" y1="1056.70" x2="955.60" y2="1056.70" stroke="#333" stroke-width="0.8"/>
<text x="711.40" y="1060.20" font-size="9.3" text-anchor="end" fill="#222">22</text>
<line x1="714.70" y1="1088.10" x2="717.90" y2="1088.10" stroke="#333" stroke-width="0.8"/>
<line x1="952.40" y1="1088.10" x2="955.60" y2="1088.10" stroke="#333" stroke-width="0.8"/>
<text x="711.40" y="1091.60" font-size="9.3" text-anchor="end" fill="#222">21</text>
<line x1="714.70" y1="1119.50" x2="717.90" y2="1119.50" stroke="#333" stroke-width="0.8"/>
<line x1="952.40" y1="1119.50" x2="955.60" y2="1119.50" stroke="#333" stroke-width="0.8"/>
<text x="711.40" y="1123.00" font-size="9.3" text-anchor="end" fill="#222">20</text>
<line x1="719.40" y1="1137.80" x2="719.40" y2="1141.00" stroke="#333" stroke-width="0.8"/>
<line x1="957.30" y1="1137.80" x2="957.30" y2="1141.00" stroke="#333" stroke-width="0.8"/>
<text x="719.10" y="1150.50" font-size="9.4" text-anchor="middle" fill="#222">−152</text>
<line x1="748.37" y1="1137.80" x2="748.37" y2="1141.00" stroke="#333" stroke-width="0.8"/>
<line x1="986.27" y1="1137.80" x2="986.27" y2="1141.00" stroke="#333" stroke-width="0.8"/>
<text x="748.07" y="1150.50" font-size="9.4" text-anchor="middle" fill="#222">−151</text>
<line x1="777.34" y1="1137.80" x2="777.34" y2="1141.00" stroke="#333" stroke-width="0.8"/>
<line x1="1015.24" y1="1137.80" x2="1015.24" y2="1141.00" stroke="#333" stroke-width="0.8"/>
<text x="777.04" y="1150.50" font-size="9.4" text-anchor="middle" fill="#222">−150</text>
<line x1="806.31" y1="1137.80" x2="806.31" y2="1141.00" stroke="#333" stroke-width="0.8"/>
<line x1="1044.21" y1="1137.80" x2="1044.21" y2="1141.00" stroke="#333" stroke-width="0.8"/>
<text x="806.01" y="1150.50" font-size="9.4" text-anchor="middle" fill="#222">−149</text>
<line x1="835.28" y1="1137.80" x2="835.28" y2="1141.00" stroke="#333" stroke-width="0.8"/>
<line x1="1073.18" y1="1137.80" x2="1073.18" y2="1141.00" stroke="#333" stroke-width="0.8"/>
<text x="834.98" y="1150.50" font-size="9.4" text-anchor="middle" fill="#222">−148</text>
<line x1="864.25" y1="1137.80" x2="864.25" y2="1141.00" stroke="#333" stroke-width="0.8"/>
<line x1="1102.15" y1="1137.80" x2="1102.15" y2="1141.00" stroke="#333" stroke-width="0.8"/>
<text x="863.95" y="1150.50" font-size="9.4" text-anchor="middle" fill="#222">−147</text>
<line x1="893.22" y1="1137.80" x2="893.22" y2="1141.00" stroke="#333" stroke-width="0.8"/>
<line x1="1131.12" y1="1137.80" x2="1131.12" y2="1141.00" stroke="#333" stroke-width="0.8"/>
<text x="892.92" y="1150.50" font-size="9.4" text-anchor="middle" fill="#222">−146</text>
<g clip-path="url(#cp1)"><g filter="url(#btmap)"><use href="#storm1" transform="translate(700,1155) scale(0.20548)"/></g></g>
<rect x="717.90" y="1175.60" width="200.40" height="199.60" fill="none" stroke="#444" stroke-width="0.9"/>
<clipPath id="scp1"><rect x="955.6" y="1175.6" width="200.10000000000002" height="199.6"/></clipPath><g clip-path="url(#scp1)"><g filter="url(#shp1)"><rect x="950.6" y="1170.6" width="210.10000000000002" height="209.6" fill="url(#env1)"/></g></g><g filter="url(#spotblur)"><ellipse cx="1050.9" cy="1274.1" rx="3.9" ry="2.3" fill="#e80000" fill-opacity="1"/><ellipse cx="1047.0" cy="1280.5" rx="6.6" ry="2.1" fill="#2020ff" fill-opacity="0.75"/><ellipse cx="1025.9" cy="1243.8" rx="2.7" ry="3.5" fill="#3030ff" fill-opacity="0.5"/><ellipse cx="1033.7" cy="1233.1" rx="2.0" ry="2.7" fill="#3030ff" fill-opacity="0.45"/><ellipse cx="1063.0" cy="1268.2" rx="3.9" ry="2.0" fill="#3030ff" fill-opacity="0.45"/><ellipse cx="1094.2" cy="1256.5" rx="4.7" ry="1.4" fill="#3030ff" fill-opacity="0.4"/><ellipse cx="1023.9" cy="1235.0" rx="2.0" ry="2.7" fill="#ff3030" fill-opacity="0.35"/><ellipse cx="1029.8" cy="1276.0" rx="3.1" ry="2.0" fill="#3030ff" fill-opacity="0.45"/><ellipse cx="1022.0" cy="1284.8" rx="4.9" ry="2.0" fill="#ff4040" fill-opacity="0.3"/><ellipse cx="1064.9" cy="1295.5" rx="5.9" ry="2.3" fill="#ff4040" fill-opacity="0.25"/><ellipse cx="1005.4" cy="1223.3" rx="1.6" ry="2.7" fill="#3030ff" fill-opacity="0.3"/></g>
<rect x="955.60" y="1175.60" width="200.10" height="199.60" fill="none" stroke="#444" stroke-width="0.9"/>
<text x="818.00" y="1171.00" font-size="11" text-anchor="middle" fill="#222">3h old IR Data</text>
<text x="1055.60" y="1171.00" font-size="11" text-anchor="middle" fill="#222">SHAP Value=-0.89 kts</text>
<line x1="714.70" y1="1199.90" x2="717.90" y2="1199.90" stroke="#333" stroke-width="0.8"/>
<line x1="952.40" y1="1199.90" x2="955.60" y2="1199.90" stroke="#333" stroke-width="0.8"/>
<text x="711.40" y="1203.40" font-size="9.3" text-anchor="end" fill="#222">25</text>
<line x1="714.70" y1="1231.30" x2="717.90" y2="1231.30" stroke="#333" stroke-width="0.8"/>
<line x1="952.40" y1="1231.30" x2="955.60" y2="1231.30" stroke="#333" stroke-width="0.8"/>
<text x="711.40" y="1234.80" font-size="9.3" text-anchor="end" fill="#222">24</text>
<line x1="714.70" y1="1262.70" x2="717.90" y2="1262.70" stroke="#333" stroke-width="0.8"/>
<line x1="952.40" y1="1262.70" x2="955.60" y2="1262.70" stroke="#333" stroke-width="0.8"/>
<text x="711.40" y="1266.20" font-size="9.3" text-anchor="end" fill="#222">23</text>
<line x1="714.70" y1="1294.10" x2="717.90" y2="1294.10" stroke="#333" stroke-width="0.8"/>
<line x1="952.40" y1="1294.10" x2="955.60" y2="1294.10" stroke="#333" stroke-width="0.8"/>
<text x="711.40" y="1297.60" font-size="9.3" text-anchor="end" fill="#222">22</text>
<line x1="714.70" y1="1325.50" x2="717.90" y2="1325.50" stroke="#333" stroke-width="0.8"/>
<line x1="952.40" y1="1325.50" x2="955.60" y2="1325.50" stroke="#333" stroke-width="0.8"/>
<text x="711.40" y="1329.00" font-size="9.3" text-anchor="end" fill="#222">21</text>
<line x1="714.70" y1="1356.90" x2="717.90" y2="1356.90" stroke="#333" stroke-width="0.8"/>
<line x1="952.40" y1="1356.90" x2="955.60" y2="1356.90" stroke="#333" stroke-width="0.8"/>
<text x="711.40" y="1360.40" font-size="9.3" text-anchor="end" fill="#222">20</text>
<line x1="719.40" y1="1375.20" x2="719.40" y2="1378.40" stroke="#333" stroke-width="0.8"/>
<line x1="957.30" y1="1375.20" x2="957.30" y2="1378.40" stroke="#333" stroke-width="0.8"/>
<text x="719.10" y="1387.90" font-size="9.4" text-anchor="middle" fill="#222">−152</text>
<line x1="748.37" y1="1375.20" x2="748.37" y2="1378.40" stroke="#333" stroke-width="0.8"/>
<line x1="986.27" y1="1375.20" x2="986.27" y2="1378.40" stroke="#333" stroke-width="0.8"/>
<text x="748.07" y="1387.90" font-size="9.4" text-anchor="middle" fill="#222">−151</text>
<line x1="777.34" y1="1375.20" x2="777.34" y2="1378.40" stroke="#333" stroke-width="0.8"/>
<line x1="1015.24" y1="1375.20" x2="1015.24" y2="1378.40" stroke="#333" stroke-width="0.8"/>
<text x="777.04" y="1387.90" font-size="9.4" text-anchor="middle" fill="#222">−150</text>
<line x1="806.31" y1="1375.20" x2="806.31" y2="1378.40" stroke="#333" stroke-width="0.8"/>
<line x1="1044.21" y1="1375.20" x2="1044.21" y2="1378.40" stroke="#333" stroke-width="0.8"/>
<text x="806.01" y="1387.90" font-size="9.4" text-anchor="middle" fill="#222">−149</text>
<line x1="835.28" y1="1375.20" x2="835.28" y2="1378.40" stroke="#333" stroke-width="0.8"/>
<line x1="1073.18" y1="1375.20" x2="1073.18" y2="1378.40" stroke="#333" stroke-width="0.8"/>
<text x="834.98" y="1387.90" font-size="9.4" text-anchor="middle" fill="#222">−148</text>
<line x1="864.25" y1="1375.20" x2="864.25" y2="1378.40" stroke="#333" stroke-width="0.8"/>
<line x1="1102.15" y1="1375.20" x2="1102.15" y2="1378.40" stroke="#333" stroke-width="0.8"/>
<text x="863.95" y="1387.90" font-size="9.4" text-anchor="middle" fill="#222">−147</text>
<line x1="893.22" y1="1375.20" x2="893.22" y2="1378.40" stroke="#333" stroke-width="0.8"/>
<line x1="1131.12" y1="1375.20" x2="1131.12" y2="1378.40" stroke="#333" stroke-width="0.8"/>
<text x="892.92" y="1387.90" font-size="9.4" text-anchor="middle" fill="#222">−146</text>
<g clip-path="url(#cp2)"><g filter="url(#btmap)"><use href="#storm2" transform="translate(700,1393) scale(0.20548)"/></g></g>
<rect x="717.90" y="1413.10" width="200.40" height="199.60" fill="none" stroke="#444" stroke-width="0.9"/>
<clipPath id="scp2"><rect x="955.6" y="1413.1" width="200.10000000000002" height="199.6"/></clipPath><g clip-path="url(#scp2)"><g filter="url(#shp2)"><rect x="950.6" y="1408.1" width="210.10000000000002" height="209.6" fill="url(#env2)"/></g></g><g filter="url(#spotblur)"><ellipse cx="1057.1" cy="1495.5" rx="2.1" ry="3.9" fill="#1010ff" fill-opacity="1"/><ellipse cx="1056.7" cy="1476.9" rx="1.0" ry="7.8" fill="#3030ff" fill-opacity="0.4"/><ellipse cx="1039.6" cy="1493.5" rx="2.7" ry="3.9" fill="#ff2020" fill-opacity="0.7"/><ellipse cx="1047.4" cy="1488.7" rx="4.3" ry="2.0" fill="#ff2020" fill-opacity="0.6"/><ellipse cx="1056.1" cy="1513.1" rx="2.1" ry="3.1" fill="#ff1010" fill-opacity="0.85"/><ellipse cx="1041.5" cy="1515.4" rx="5.1" ry="2.3" fill="#ff2020" fill-opacity="0.7"/><ellipse cx="1037.6" cy="1505.2" rx="1.6" ry="2.7" fill="#ff2020" fill-opacity="0.6"/><ellipse cx="1044.4" cy="1499.4" rx="3.1" ry="3.1" fill="#2020ff" fill-opacity="0.6"/><ellipse cx="1033.7" cy="1512.5" rx="3.5" ry="1.8" fill="#2020ff" fill-opacity="0.6"/><ellipse cx="1025.9" cy="1519.9" rx="2.3" ry="2.0" fill="#2020ff" fill-opacity="0.6"/><ellipse cx="1044.4" cy="1519.9" rx="2.7" ry="2.7" fill="#2020ff" fill-opacity="0.7"/><ellipse cx="1057.1" cy="1520.9" rx="1.2" ry="2.3" fill="#2020ff" fill-opacity="0.5"/><ellipse cx="1023.9" cy="1512.1" rx="5.9" ry="2.0" fill="#ff3030" fill-opacity="0.4"/><ellipse cx="1014.2" cy="1518.9" rx="4.9" ry="1.8" fill="#ff3030" fill-opacity="0.4"/><ellipse cx="1088.4" cy="1493.5" rx="13.7" ry="2.0" fill="#ff4040" fill-opacity="0.25"/><ellipse cx="1076.6" cy="1499.4" rx="2.0" ry="2.0" fill="#3030ff" fill-opacity="0.35"/></g>
<rect x="955.60" y="1413.10" width="200.10" height="199.60" fill="none" stroke="#444" stroke-width="0.9"/>
<text x="818.00" y="1408.50" font-size="11" text-anchor="middle" fill="#222">6h old IR Data</text>
<text x="1055.60" y="1408.50" font-size="11" text-anchor="middle" fill="#222">SHAP Value=-4.13 kts</text>
<line x1="714.70" y1="1427.60" x2="717.90" y2="1427.60" stroke="#333" stroke-width="0.8"/>
<line x1="952.40" y1="1427.60" x2="955.60" y2="1427.60" stroke="#333" stroke-width="0.8"/>
<text x="711.40" y="1431.10" font-size="9.3" text-anchor="end" fill="#222">25</text>
<line x1="714.70" y1="1459.00" x2="717.90" y2="1459.00" stroke="#333" stroke-width="0.8"/>
<line x1="952.40" y1="1459.00" x2="955.60" y2="1459.00" stroke="#333" stroke-width="0.8"/>
<text x="711.40" y="1462.50" font-size="9.3" text-anchor="end" fill="#222">24</text>
<line x1="714.70" y1="1490.40" x2="717.90" y2="1490.40" stroke="#333" stroke-width="0.8"/>
<line x1="952.40" y1="1490.40" x2="955.60" y2="1490.40" stroke="#333" stroke-width="0.8"/>
<text x="711.40" y="1493.90" font-size="9.3" text-anchor="end" fill="#222">23</text>
<line x1="714.70" y1="1521.80" x2="717.90" y2="1521.80" stroke="#333" stroke-width="0.8"/>
<line x1="952.40" y1="1521.80" x2="955.60" y2="1521.80" stroke="#333" stroke-width="0.8"/>
<text x="711.40" y="1525.30" font-size="9.3" text-anchor="end" fill="#222">22</text>
<line x1="714.70" y1="1553.20" x2="717.90" y2="1553.20" stroke="#333" stroke-width="0.8"/>
<line x1="952.40" y1="1553.20" x2="955.60" y2="1553.20" stroke="#333" stroke-width="0.8"/>
<text x="711.40" y="1556.70" font-size="9.3" text-anchor="end" fill="#222">21</text>
<line x1="714.70" y1="1584.60" x2="717.90" y2="1584.60" stroke="#333" stroke-width="0.8"/>
<line x1="952.40" y1="1584.60" x2="955.60" y2="1584.60" stroke="#333" stroke-width="0.8"/>
<text x="711.40" y="1588.10" font-size="9.3" text-anchor="end" fill="#222">20</text>
<line x1="735.00" y1="1612.70" x2="735.00" y2="1615.90" stroke="#333" stroke-width="0.8"/>
<line x1="972.90" y1="1612.70" x2="972.90" y2="1615.90" stroke="#333" stroke-width="0.8"/>
<text x="734.70" y="1625.40" font-size="9.4" text-anchor="middle" fill="#222">−151</text>
<line x1="763.97" y1="1612.70" x2="763.97" y2="1615.90" stroke="#333" stroke-width="0.8"/>
<line x1="1001.87" y1="1612.70" x2="1001.87" y2="1615.90" stroke="#333" stroke-width="0.8"/>
<text x="763.67" y="1625.40" font-size="9.4" text-anchor="middle" fill="#222">−150</text>
<line x1="792.94" y1="1612.70" x2="792.94" y2="1615.90" stroke="#333" stroke-width="0.8"/>
<line x1="1030.84" y1="1612.70" x2="1030.84" y2="1615.90" stroke="#333" stroke-width="0.8"/>
<text x="792.64" y="1625.40" font-size="9.4" text-anchor="middle" fill="#222">−149</text>
<line x1="821.91" y1="1612.70" x2="821.91" y2="1615.90" stroke="#333" stroke-width="0.8"/>
<line x1="1059.81" y1="1612.70" x2="1059.81" y2="1615.90" stroke="#333" stroke-width="0.8"/>
<text x="821.61" y="1625.40" font-size="9.4" text-anchor="middle" fill="#222">−148</text>
<line x1="850.88" y1="1612.70" x2="850.88" y2="1615.90" stroke="#333" stroke-width="0.8"/>
<line x1="1088.78" y1="1612.70" x2="1088.78" y2="1615.90" stroke="#333" stroke-width="0.8"/>
<text x="850.58" y="1625.40" font-size="9.4" text-anchor="middle" fill="#222">−147</text>
<line x1="879.85" y1="1612.70" x2="879.85" y2="1615.90" stroke="#333" stroke-width="0.8"/>
<line x1="1117.75" y1="1612.70" x2="1117.75" y2="1615.90" stroke="#333" stroke-width="0.8"/>
<text x="879.55" y="1625.40" font-size="9.4" text-anchor="middle" fill="#222">−146</text>
<line x1="908.82" y1="1612.70" x2="908.82" y2="1615.90" stroke="#333" stroke-width="0.8"/>
<line x1="1146.72" y1="1612.70" x2="1146.72" y2="1615.90" stroke="#333" stroke-width="0.8"/>
<text x="908.52" y="1625.40" font-size="9.4" text-anchor="middle" fill="#222">−145</text>
<g clip-path="url(#cp3)"><g filter="url(#btmap)"><use href="#storm3" transform="translate(700,1630) scale(0.20548)"/></g></g>
<rect x="717.90" y="1650.50" width="200.40" height="199.60" fill="none" stroke="#444" stroke-width="0.9"/>
<clipPath id="scp3"><rect x="955.6" y="1650.5" width="200.10000000000002" height="199.6"/></clipPath><g clip-path="url(#scp3)"><g filter="url(#shp3)"><rect x="950.6" y="1645.5" width="210.10000000000002" height="209.6" fill="url(#env3)"/></g></g><g filter="url(#spotblur)"><ellipse cx="1054.2" cy="1751.0" rx="2.0" ry="2.3" fill="#f00000" fill-opacity="1"/><ellipse cx="1046.4" cy="1734.4" rx="2.0" ry="2.0" fill="#2020ff" fill-opacity="0.7"/><ellipse cx="1059.1" cy="1730.5" rx="1.8" ry="3.1" fill="#2020ff" fill-opacity="0.6"/><ellipse cx="1069.8" cy="1728.6" rx="2.7" ry="2.7" fill="#2020ff" fill-opacity="0.5"/><ellipse cx="1033.7" cy="1752.0" rx="2.7" ry="1.6" fill="#2020ff" fill-opacity="0.6"/><ellipse cx="1046.4" cy="1756.5" rx="4.3" ry="1.6" fill="#2020ff" fill-opacity="0.45"/><ellipse cx="1077.6" cy="1741.3" rx="2.7" ry="3.5" fill="#2020ff" fill-opacity="0.45"/><ellipse cx="1072.7" cy="1768.6" rx="2.0" ry="2.0" fill="#2020ff" fill-opacity="0.4"/><ellipse cx="1076.6" cy="1790.1" rx="2.0" ry="1.6" fill="#2020ff" fill-opacity="0.4"/><ellipse cx="1051.3" cy="1738.3" rx="2.0" ry="2.0" fill="#ff2020" fill-opacity="0.5"/><ellipse cx="1044.4" cy="1705.2" rx="3.5" ry="2.0" fill="#ff3030" fill-opacity="0.3"/><ellipse cx="1024.9" cy="1725.7" rx="2.7" ry="2.0" fill="#ff3030" fill-opacity="0.3"/><ellipse cx="1036.6" cy="1716.9" rx="1.4" ry="2.7" fill="#3030ff" fill-opacity="0.4"/><ellipse cx="1040.5" cy="1786.2" rx="1.0" ry="5.9" fill="#ff3030" fill-opacity="0.3"/><ellipse cx="1047.4" cy="1752.0" rx="5.9" ry="0.8" fill="#ff3030" fill-opacity="0.4"/></g>
<rect x="955.60" y="1650.50" width="200.10" height="199.60" fill="none" stroke="#444" stroke-width="0.9"/>
<text x="818.00" y="1645.90" font-size="11" text-anchor="middle" fill="#222">9h old IR Data</text>
<text x="1055.60" y="1645.90" font-size="11" text-anchor="middle" fill="#222">SHAP Value=0.12 kts</text>
<line x1="714.70" y1="1654.20" x2="717.90" y2="1654.20" stroke="#333" stroke-width="0.8"/>
<line x1="952.40" y1="1654.20" x2="955.60" y2="1654.20" stroke="#333" stroke-width="0.8"/>
<text x="711.40" y="1657.70" font-size="9.3" text-anchor="end" fill="#222">25</text>
<line x1="714.70" y1="1685.60" x2="717.90" y2="1685.60" stroke="#333" stroke-width="0.8"/>
<line x1="952.40" y1="1685.60" x2="955.60" y2="1685.60" stroke="#333" stroke-width="0.8"/>
<text x="711.40" y="1689.10" font-size="9.3" text-anchor="end" fill="#222">24</text>
<line x1="714.70" y1="1717.00" x2="717.90" y2="1717.00" stroke="#333" stroke-width="0.8"/>
<line x1="952.40" y1="1717.00" x2="955.60" y2="1717.00" stroke="#333" stroke-width="0.8"/>
<text x="711.40" y="1720.50" font-size="9.3" text-anchor="end" fill="#222">23</text>
<line x1="714.70" y1="1748.40" x2="717.90" y2="1748.40" stroke="#333" stroke-width="0.8"/>
<line x1="952.40" y1="1748.40" x2="955.60" y2="1748.40" stroke="#333" stroke-width="0.8"/>
<text x="711.40" y="1751.90" font-size="9.3" text-anchor="end" fill="#222">22</text>
<line x1="714.70" y1="1779.80" x2="717.90" y2="1779.80" stroke="#333" stroke-width="0.8"/>
<line x1="952.40" y1="1779.80" x2="955.60" y2="1779.80" stroke="#333" stroke-width="0.8"/>
<text x="711.40" y="1783.30" font-size="9.3" text-anchor="end" fill="#222">21</text>
<line x1="714.70" y1="1811.20" x2="717.90" y2="1811.20" stroke="#333" stroke-width="0.8"/>
<line x1="952.40" y1="1811.20" x2="955.60" y2="1811.20" stroke="#333" stroke-width="0.8"/>
<text x="711.40" y="1814.70" font-size="9.3" text-anchor="end" fill="#222">20</text>
<line x1="714.70" y1="1842.60" x2="717.90" y2="1842.60" stroke="#333" stroke-width="0.8"/>
<line x1="952.40" y1="1842.60" x2="955.60" y2="1842.60" stroke="#333" stroke-width="0.8"/>
<text x="711.40" y="1846.10" font-size="9.3" text-anchor="end" fill="#222">19</text>
<line x1="720.00" y1="1850.10" x2="720.00" y2="1853.30" stroke="#333" stroke-width="0.8"/>
<line x1="957.90" y1="1850.10" x2="957.90" y2="1853.30" stroke="#333" stroke-width="0.8"/>
<text x="719.70" y="1862.80" font-size="9.4" text-anchor="middle" fill="#222">−151</text>
<line x1="748.97" y1="1850.10" x2="748.97" y2="1853.30" stroke="#333" stroke-width="0.8"/>
<line x1="986.87" y1="1850.10" x2="986.87" y2="1853.30" stroke="#333" stroke-width="0.8"/>
<text x="748.67" y="1862.80" font-size="9.4" text-anchor="middle" fill="#222">−150</text>
<line x1="777.94" y1="1850.10" x2="777.94" y2="1853.30" stroke="#333" stroke-width="0.8"/>
<line x1="1015.84" y1="1850.10" x2="1015.84" y2="1853.30" stroke="#333" stroke-width="0.8"/>
<text x="777.64" y="1862.80" font-size="9.4" text-anchor="middle" fill="#222">−149</text>
<line x1="806.91" y1="1850.10" x2="806.91" y2="1853.30" stroke="#333" stroke-width="0.8"/>
<line x1="1044.81" y1="1850.10" x2="1044.81" y2="1853.30" stroke="#333" stroke-width="0.8"/>
<text x="806.61" y="1862.80" font-size="9.4" text-anchor="middle" fill="#222">−148</text>
<line x1="835.88" y1="1850.10" x2="835.88" y2="1853.30" stroke="#333" stroke-width="0.8"/>
<line x1="1073.78" y1="1850.10" x2="1073.78" y2="1853.30" stroke="#333" stroke-width="0.8"/>
<text x="835.58" y="1862.80" font-size="9.4" text-anchor="middle" fill="#222">−147</text>
<line x1="864.85" y1="1850.10" x2="864.85" y2="1853.30" stroke="#333" stroke-width="0.8"/>
<line x1="1102.75" y1="1850.10" x2="1102.75" y2="1853.30" stroke="#333" stroke-width="0.8"/>
<text x="864.55" y="1862.80" font-size="9.4" text-anchor="middle" fill="#222">−146</text>
<line x1="893.82" y1="1850.10" x2="893.82" y2="1853.30" stroke="#333" stroke-width="0.8"/>
<line x1="1131.72" y1="1850.10" x2="1131.72" y2="1853.30" stroke="#333" stroke-width="0.8"/>
<text x="893.52" y="1862.80" font-size="9.4" text-anchor="middle" fill="#222">−145</text>
<g clip-path="url(#cp4)"><g filter="url(#btmap)"><use href="#storm4" transform="translate(700,1868) scale(0.20548)"/></g></g>
<rect x="717.90" y="1888.10" width="200.40" height="199.60" fill="none" stroke="#444" stroke-width="0.9"/>
<clipPath id="scp4"><rect x="955.6" y="1888.1" width="200.10000000000002" height="199.6"/></clipPath><g clip-path="url(#scp4)"><g filter="url(#shp4)"><rect x="950.6" y="1883.1" width="210.10000000000002" height="209.6" fill="url(#env4)"/></g></g><g filter="url(#spotblur)"><ellipse cx="1064.9" cy="1972.4" rx="3.9" ry="2.7" fill="#f01010" fill-opacity="0.9"/><ellipse cx="1016.1" cy="1999.8" rx="3.9" ry="2.1" fill="#f01010" fill-opacity="0.85"/><ellipse cx="1053.2" cy="2004.6" rx="3.1" ry="3.1" fill="#f01010" fill-opacity="0.8"/><ellipse cx="1047.4" cy="2017.3" rx="2.7" ry="2.1" fill="#f00000" fill-opacity="0.95"/><ellipse cx="1092.3" cy="1971.5" rx="4.3" ry="1.6" fill="#f01010" fill-opacity="0.7"/><ellipse cx="1056.1" cy="1951.0" rx="2.0" ry="3.5" fill="#1010ff" fill-opacity="0.85"/><ellipse cx="1043.5" cy="2012.5" rx="1.8" ry="2.1" fill="#0000e0" fill-opacity="1"/><ellipse cx="1041.5" cy="2003.7" rx="3.1" ry="1.6" fill="#1010ff" fill-opacity="0.8"/><ellipse cx="1095.2" cy="1967.2" rx="3.9" ry="1.2" fill="#1010ff" fill-opacity="0.8"/><ellipse cx="1080.5" cy="1982.2" rx="3.1" ry="2.3" fill="#1010ff" fill-opacity="0.6"/><ellipse cx="1066.9" cy="1997.8" rx="3.5" ry="2.3" fill="#2020ff" fill-opacity="0.6"/><ellipse cx="1012.2" cy="1994.9" rx="3.5" ry="1.6" fill="#2020ff" fill-opacity="0.6"/><ellipse cx="1037.6" cy="2007.6" rx="3.9" ry="2.0" fill="#ff2020" fill-opacity="0.6"/><ellipse cx="1066.9" cy="2024.2" rx="4.3" ry="2.3" fill="#ff2020" fill-opacity="0.6"/><ellipse cx="1080.5" cy="1969.5" rx="3.9" ry="2.0" fill="#ff2020" fill-opacity="0.55"/><ellipse cx="1096.2" cy="1991.0" rx="4.3" ry="1.8" fill="#ff2020" fill-opacity="0.5"/><ellipse cx="1008.3" cy="1990.0" rx="2.3" ry="1.6" fill="#ff2020" fill-opacity="0.5"/><ellipse cx="1039.6" cy="2026.1" rx="2.3" ry="2.3" fill="#ff2020" fill-opacity="0.6"/><ellipse cx="1076.6" cy="2026.1" rx="2.0" ry="2.0" fill="#2020ff" fill-opacity="0.6"/><ellipse cx="1057.1" cy="1979.3" rx="11.7" ry="1.6" fill="#2020ff" fill-opacity="0.35"/><ellipse cx="1004.4" cy="2004.6" rx="2.3" ry="4.9" fill="#ff3030" fill-opacity="0.4"/><ellipse cx="1016.1" cy="2018.3" rx="2.0" ry="3.5" fill="#ff3030" fill-opacity="0.4"/><ellipse cx="992.7" cy="1986.1" rx="1.6" ry="3.1" fill="#ff3030" fill-opacity="0.4"/></g>
<rect x="955.60" y="1888.10" width="200.10" height="199.60" fill="none" stroke="#444" stroke-width="0.9"/>
<text x="818.00" y="1883.50" font-size="11" text-anchor="middle" fill="#222">12h old IR Data</text>
<text x="1055.60" y="1883.50" font-size="11" text-anchor="middle" fill="#222">SHAP Value=-13.91 kts</text>
<line x1="714.70" y1="1910.60" x2="717.90" y2="1910.60" stroke="#333" stroke-width="0.8"/>
<line x1="952.40" y1="1910.60" x2="955.60" y2="1910.60" stroke="#333" stroke-width="0.8"/>
<text x="711.40" y="1914.10" font-size="9.3" text-anchor="end" fill="#222">24</text>
<line x1="714.70" y1="1942.00" x2="717.90" y2="1942.00" stroke="#333" stroke-width="0.8"/>
<line x1="952.40" y1="1942.00" x2="955.60" y2="1942.00" stroke="#333" stroke-width="0.8"/>
<text x="711.40" y="1945.50" font-size="9.3" text-anchor="end" fill="#222">23</text>
<line x1="714.70" y1="1973.40" x2="717.90" y2="1973.40" stroke="#333" stroke-width="0.8"/>
<line x1="952.40" y1="1973.40" x2="955.60" y2="1973.40" stroke="#333" stroke-width="0.8"/>
<text x="711.40" y="1976.90" font-size="9.3" text-anchor="end" fill="#222">22</text>
<line x1="714.70" y1="2004.80" x2="717.90" y2="2004.80" stroke="#333" stroke-width="0.8"/>
<line x1="952.40" y1="2004.80" x2="955.60" y2="2004.80" stroke="#333" stroke-width="0.8"/>
<text x="711.40" y="2008.30" font-size="9.3" text-anchor="end" fill="#222">21</text>
<line x1="714.70" y1="2036.20" x2="717.90" y2="2036.20" stroke="#333" stroke-width="0.8"/>
<line x1="952.40" y1="2036.20" x2="955.60" y2="2036.20" stroke="#333" stroke-width="0.8"/>
<text x="711.40" y="2039.70" font-size="9.3" text-anchor="end" fill="#222">20</text>
<line x1="714.70" y1="2067.60" x2="717.90" y2="2067.60" stroke="#333" stroke-width="0.8"/>
<line x1="952.40" y1="2067.60" x2="955.60" y2="2067.60" stroke="#333" stroke-width="0.8"/>
<text x="711.40" y="2071.10" font-size="9.3" text-anchor="end" fill="#222">19</text>
<line x1="729.50" y1="2087.70" x2="729.50" y2="2090.90" stroke="#333" stroke-width="0.8"/>
<line x1="967.40" y1="2087.70" x2="967.40" y2="2090.90" stroke="#333" stroke-width="0.8"/>
<text x="729.20" y="2100.40" font-size="9.4" text-anchor="middle" fill="#222">−150</text>
<line x1="758.47" y1="2087.70" x2="758.47" y2="2090.90" stroke="#333" stroke-width="0.8"/>
<line x1="996.37" y1="2087.70" x2="996.37" y2="2090.90" stroke="#333" stroke-width="0.8"/>
<text x="758.17" y="2100.40" font-size="9.4" text-anchor="middle" fill="#222">−149</text>
<line x1="787.44" y1="2087.70" x2="787.44" y2="2090.90" stroke="#333" stroke-width="0.8"/>
<line x1="1025.34" y1="2087.70" x2="1025.34" y2="2090.90" stroke="#333" stroke-width="0.8"/>
<text x="787.14" y="2100.40" font-size="9.4" text-anchor="middle" fill="#222">−148</text>
<line x1="816.41" y1="2087.70" x2="816.41" y2="2090.90" stroke="#333" stroke-width="0.8"/>
<line x1="1054.31" y1="2087.70" x2="1054.31" y2="2090.90" stroke="#333" stroke-width="0.8"/>
<text x="816.11" y="2100.40" font-size="9.4" text-anchor="middle" fill="#222">−147</text>
<line x1="845.38" y1="2087.70" x2="845.38" y2="2090.90" stroke="#333" stroke-width="0.8"/>
<line x1="1083.28" y1="2087.70" x2="1083.28" y2="2090.90" stroke="#333" stroke-width="0.8"/>
<text x="845.08" y="2100.40" font-size="9.4" text-anchor="middle" fill="#222">−146</text>
<line x1="874.35" y1="2087.70" x2="874.35" y2="2090.90" stroke="#333" stroke-width="0.8"/>
<line x1="1112.25" y1="2087.70" x2="1112.25" y2="2090.90" stroke="#333" stroke-width="0.8"/>
<text x="874.05" y="2100.40" font-size="9.4" text-anchor="middle" fill="#222">−145</text>
<line x1="903.32" y1="2087.70" x2="903.32" y2="2090.90" stroke="#333" stroke-width="0.8"/>
<line x1="1141.22" y1="2087.70" x2="1141.22" y2="2090.90" stroke="#333" stroke-width="0.8"/>
<text x="903.02" y="2100.40" font-size="9.4" text-anchor="middle" fill="#222">−144</text>
<linearGradient id="btcb" x1="0" x2="1" y1="0" y2="0"><stop offset="0.0000" stop-color="rgb(128,0,128)"/><stop offset="0.0765" stop-color="rgb(255,0,255)"/><stop offset="0.0766" stop-color="rgb(255,255,255)"/><stop offset="0.1531" stop-color="rgb(0,0,0)"/><stop offset="0.2144" stop-color="rgb(150,0,0)"/><stop offset="0.2680" stop-color="rgb(255,0,0)"/><stop offset="0.3216" stop-color="rgb(255,130,0)"/><stop offset="0.3828" stop-color="rgb(255,255,0)"/><stop offset="0.4211" stop-color="rgb(140,255,0)"/><stop offset="0.4594" stop-color="rgb(0,255,0)"/><stop offset="0.5207" stop-color="rgb(0,175,40)"/><stop offset="0.5513" stop-color="rgb(0,110,110)"/><stop offset="0.5819" stop-color="rgb(0,50,190)"/><stop offset="0.6126" stop-color="rgb(0,0,255)"/><stop offset="0.6662" stop-color="rgb(0,128,255)"/><stop offset="0.7198" stop-color="rgb(0,255,255)"/><stop offset="0.7198" stop-color="rgb(255,255,255)"/><stop offset="0.9954" stop-color="rgb(0,0,0)"/></linearGradient>
<rect x="717.90" y="2125.50" width="200.40" height="12.30" fill="url(#btcb)" stroke="#333" stroke-width="0.8"/>
<text x="818.00" y="2121.60" font-size="9.7" text-anchor="middle" fill="#222">Brightness Temperature [K]</text>
<line x1="717.90" y1="2137.80" x2="717.90" y2="2140.60" stroke="#333" stroke-width="0.7"/>
<text x="717.90" y="2149.30" font-size="7.1" text-anchor="middle" fill="#222">180</text>
<line x1="748.60" y1="2137.80" x2="748.60" y2="2140.60" stroke="#333" stroke-width="0.7"/>
<text x="748.60" y="2149.30" font-size="7.1" text-anchor="middle" fill="#222">200</text>
<line x1="779.30" y1="2137.80" x2="779.30" y2="2140.60" stroke="#333" stroke-width="0.7"/>
<text x="779.30" y="2149.30" font-size="7.1" text-anchor="middle" fill="#222">220</text>
<line x1="810.00" y1="2137.80" x2="810.00" y2="2140.60" stroke="#333" stroke-width="0.7"/>
<text x="810.00" y="2149.30" font-size="7.1" text-anchor="middle" fill="#222">240</text>
<line x1="840.70" y1="2137.80" x2="840.70" y2="2140.60" stroke="#333" stroke-width="0.7"/>
<text x="840.70" y="2149.30" font-size="7.1" text-anchor="middle" fill="#222">260</text>
<line x1="871.40" y1="2137.80" x2="871.40" y2="2140.60" stroke="#333" stroke-width="0.7"/>
<text x="871.40" y="2149.30" font-size="7.1" text-anchor="middle" fill="#222">280</text>
<line x1="902.10" y1="2137.80" x2="902.10" y2="2140.60" stroke="#333" stroke-width="0.7"/>
<text x="902.10" y="2149.30" font-size="7.1" text-anchor="middle" fill="#222">300</text>
<linearGradient id="shcb" x1="0" x2="1" y1="0" y2="0"><stop offset="0" stop-color="#00004c"/><stop offset="0.25" stop-color="#0000ff"/><stop offset="0.5" stop-color="#fff"/><stop offset="0.75" stop-color="#ff0000"/><stop offset="1" stop-color="#800000"/></linearGradient>
<rect x="955.60" y="2125.50" width="200.10" height="12.30" fill="url(#shcb)" stroke="#333" stroke-width="0.8"/>
<text x="1055.60" y="2121.60" font-size="9.7" text-anchor="middle" fill="#222">SHAP Values</text>
<line x1="992.40" y1="2137.80" x2="992.40" y2="2141.00" stroke="#333" stroke-width="0.8"/>
<text x="990.90" y="2150.60" font-size="9" text-anchor="middle" fill="#222">−0.1</text>
<line x1="1055.60" y1="2137.80" x2="1055.60" y2="2141.00" stroke="#333" stroke-width="0.8"/>
<text x="1055.60" y="2150.60" font-size="9" text-anchor="middle" fill="#222">0.0</text>
<line x1="1118.60" y1="2137.80" x2="1118.60" y2="2141.00" stroke="#333" stroke-width="0.8"/>
<text x="1118.60" y="2150.60" font-size="9" text-anchor="middle" fill="#222">0.1</text></g>
</svg>
</body></html>
